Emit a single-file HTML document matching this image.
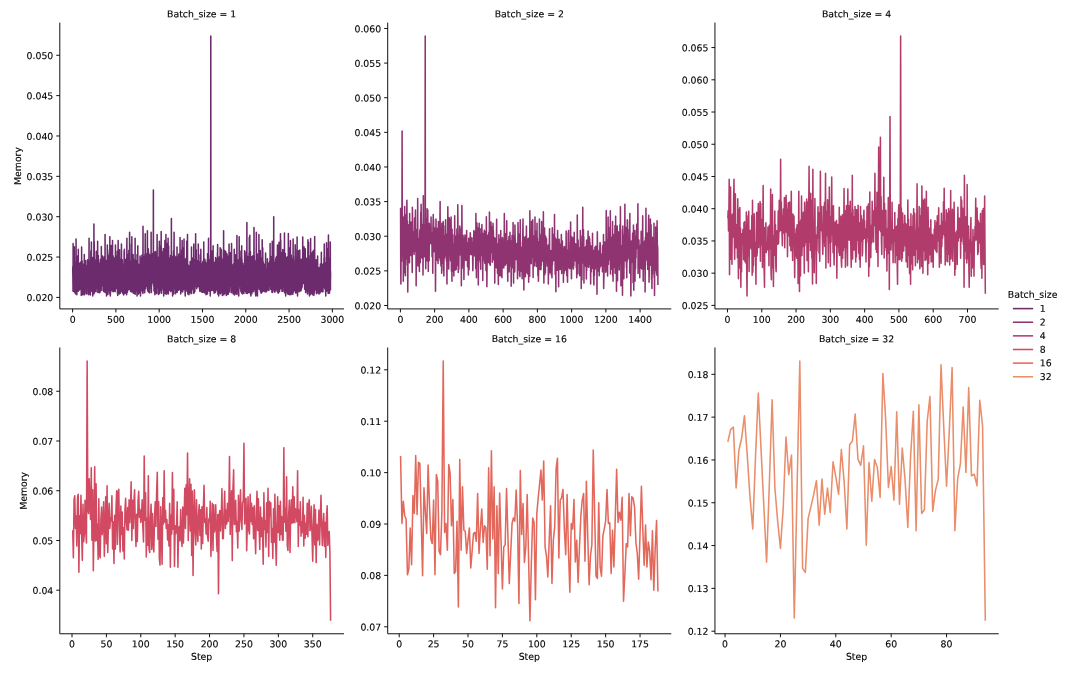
<!DOCTYPE html>
<html lang="en"><head><meta charset="utf-8"><title>Memory per step by batch size</title>
<style>html,body{margin:0;padding:0;background:#fff;}body{width:1066px;height:673px;overflow:hidden;}svg{display:block;}text{fill:#000;stroke:#000;stroke-width:0.13px;}</style>
</head><body>
<svg width="1066" height="673" viewBox="0 0 1066 673" font-family="'DejaVu Sans', 'Liberation Sans', sans-serif">
<rect width="1066" height="673" fill="#fff"/>
<path d="M72.70,273.20 L72.78,266.66 L72.87,276.20 L72.96,283.67 L73.04,291.22 L73.13,243.41 L73.21,279.71 L73.30,291.50 L73.39,291.39 L73.47,260.59 L73.56,290.23 L73.65,285.42 L73.73,278.96 L73.82,261.52 L73.91,264.03 L73.99,265.80 L74.08,280.50 L74.17,277.27 L74.25,271.34 L74.34,246.78 L74.43,275.35 L74.51,284.63 L74.60,264.88 L74.69,291.46 L74.77,271.47 L74.86,292.44 L74.95,286.27 L75.03,264.53 L75.12,265.33 L75.21,293.21 L75.29,262.71 L75.38,293.87 L75.47,277.52 L75.55,279.74 L75.64,287.40 L75.73,283.47 L75.81,267.78 L75.90,283.78 L75.99,289.26 L76.07,238.97 L76.16,279.54 L76.25,268.18 L76.33,286.51 L76.42,283.80 L76.50,268.25 L76.59,277.77 L76.68,277.82 L76.76,286.59 L76.85,294.66 L76.94,264.13 L77.02,291.49 L77.11,267.06 L77.20,282.45 L77.28,263.73 L77.37,281.48 L77.46,264.29 L77.54,255.96 L77.63,286.70 L77.72,270.97 L77.80,273.27 L77.89,273.15 L77.98,280.11 L78.06,287.62 L78.15,275.02 L78.24,291.20 L78.32,249.38 L78.41,265.40 L78.50,283.21 L78.58,270.61 L78.67,288.66 L78.76,282.78 L78.84,270.54 L78.93,283.06 L79.02,273.04 L79.10,276.05 L79.19,266.12 L79.28,264.56 L79.36,272.63 L79.45,270.03 L79.53,289.92 L79.62,263.35 L79.71,268.77 L79.79,282.36 L79.88,277.70 L79.97,279.95 L80.05,262.97 L80.14,284.90 L80.23,282.29 L80.31,262.96 L80.40,281.72 L80.49,275.19 L80.57,265.78 L80.66,266.10 L80.75,284.56 L80.83,264.01 L80.92,261.84 L81.01,269.10 L81.09,289.84 L81.18,282.10 L81.27,295.47 L81.35,267.89 L81.44,268.78 L81.53,290.40 L81.61,247.12 L81.70,286.72 L81.79,279.49 L81.87,277.67 L81.96,291.55 L82.05,268.30 L82.13,260.81 L82.22,281.26 L82.31,293.12 L82.39,294.77 L82.48,289.02 L82.57,284.70 L82.65,267.39 L82.74,268.67 L82.82,264.11 L82.91,281.63 L83.00,275.55 L83.08,270.13 L83.17,285.23 L83.26,272.26 L83.34,283.59 L83.43,278.16 L83.52,274.22 L83.60,280.91 L83.69,275.73 L83.78,275.64 L83.86,294.68 L83.95,293.75 L84.04,290.76 L84.12,289.03 L84.21,289.33 L84.30,254.55 L84.38,288.91 L84.47,278.53 L84.56,294.66 L84.64,285.14 L84.73,261.59 L84.82,283.14 L84.90,275.72 L84.99,272.65 L85.08,268.10 L85.16,266.58 L85.25,274.43 L85.34,284.82 L85.42,270.75 L85.51,287.93 L85.60,269.05 L85.68,260.50 L85.77,273.05 L85.85,278.62 L85.94,285.12 L86.03,279.64 L86.11,265.45 L86.20,293.34 L86.29,278.25 L86.37,279.79 L86.46,268.53 L86.55,294.03 L86.63,276.98 L86.72,278.99 L86.81,275.44 L86.89,271.07 L86.98,277.59 L87.07,276.23 L87.15,278.47 L87.24,274.28 L87.33,286.40 L87.41,276.14 L87.50,272.01 L87.59,259.80 L87.67,261.17 L87.76,269.37 L87.85,262.22 L87.93,284.66 L88.02,279.55 L88.11,285.74 L88.19,293.07 L88.28,294.09 L88.37,286.20 L88.45,265.06 L88.54,289.03 L88.63,270.89 L88.71,294.66 L88.80,292.43 L88.89,288.05 L88.97,260.51 L89.06,238.25 L89.14,275.67 L89.23,279.01 L89.32,285.28 L89.40,277.78 L89.49,262.50 L89.58,287.89 L89.66,269.12 L89.75,286.12 L89.84,288.14 L89.92,283.50 L90.01,291.68 L90.10,261.72 L90.18,281.96 L90.27,288.68 L90.36,294.93 L90.44,292.76 L90.53,287.24 L90.62,279.97 L90.70,273.44 L90.79,259.99 L90.88,250.67 L90.96,286.29 L91.05,273.28 L91.14,262.42 L91.22,291.26 L91.31,264.94 L91.40,241.96 L91.48,267.30 L91.57,283.34 L91.66,272.40 L91.74,276.48 L91.83,290.95 L91.92,267.09 L92.00,264.76 L92.09,277.11 L92.17,280.55 L92.26,260.11 L92.35,281.01 L92.43,262.53 L92.52,279.36 L92.61,280.99 L92.69,257.57 L92.78,295.92 L92.87,284.46 L92.95,286.20 L93.04,258.26 L93.13,274.74 L93.21,278.37 L93.30,293.65 L93.39,288.84 L93.47,260.85 L93.56,257.75 L93.65,280.84 L93.73,259.66 L93.82,290.35 L93.91,224.12 L93.99,265.12 L94.08,293.78 L94.17,291.98 L94.25,241.40 L94.34,259.66 L94.43,284.88 L94.51,276.86 L94.60,285.31 L94.69,261.80 L94.77,259.71 L94.86,291.79 L94.95,275.25 L95.03,287.65 L95.12,279.61 L95.21,267.34 L95.29,268.36 L95.38,287.41 L95.46,282.22 L95.55,259.92 L95.64,280.26 L95.72,269.51 L95.81,265.66 L95.90,282.07 L95.98,278.20 L96.07,291.69 L96.16,280.82 L96.24,259.85 L96.33,251.23 L96.42,273.85 L96.50,272.06 L96.59,273.42 L96.68,264.88 L96.76,284.38 L96.85,282.29 L96.94,261.85 L97.02,275.65 L97.11,259.28 L97.20,288.49 L97.28,265.81 L97.37,276.77 L97.46,260.33 L97.54,262.81 L97.63,241.23 L97.72,275.52 L97.80,284.53 L97.89,292.49 L97.98,265.32 L98.06,279.53 L98.15,266.56 L98.24,292.52 L98.32,255.54 L98.41,261.03 L98.50,270.34 L98.58,286.42 L98.67,271.17 L98.75,286.67 L98.84,280.63 L98.93,291.82 L99.01,290.66 L99.10,287.80 L99.19,287.02 L99.27,265.60 L99.36,285.02 L99.45,266.16 L99.53,292.77 L99.62,291.10 L99.71,291.01 L99.79,263.00 L99.88,266.75 L99.97,292.47 L100.05,263.23 L100.14,285.76 L100.23,284.57 L100.31,274.45 L100.40,259.54 L100.49,262.23 L100.57,281.45 L100.66,275.05 L100.75,275.06 L100.83,284.18 L100.92,270.10 L101.01,262.74 L101.09,274.52 L101.18,290.38 L101.27,268.07 L101.35,246.40 L101.44,277.83 L101.53,272.62 L101.61,284.79 L101.70,261.02 L101.78,259.06 L101.87,262.80 L101.96,259.85 L102.04,260.40 L102.13,285.79 L102.22,263.69 L102.30,273.79 L102.39,285.08 L102.48,269.95 L102.56,255.99 L102.65,263.07 L102.74,266.28 L102.82,282.07 L102.91,273.45 L103.00,273.31 L103.08,290.53 L103.17,269.61 L103.26,275.61 L103.34,275.61 L103.43,259.50 L103.52,291.18 L103.60,286.52 L103.69,259.49 L103.78,283.57 L103.86,285.17 L103.95,291.65 L104.04,283.26 L104.12,274.59 L104.21,256.95 L104.30,284.21 L104.38,285.41 L104.47,289.04 L104.56,266.53 L104.64,260.51 L104.73,262.16 L104.82,278.93 L104.90,292.18 L104.99,282.19 L105.07,234.53 L105.16,281.09 L105.25,268.66 L105.33,268.23 L105.42,262.79 L105.51,277.94 L105.59,286.12 L105.68,262.26 L105.77,263.20 L105.85,290.09 L105.94,287.09 L106.03,271.15 L106.11,265.43 L106.20,260.47 L106.29,293.85 L106.37,287.87 L106.46,279.62 L106.55,295.88 L106.63,267.44 L106.72,275.33 L106.81,276.78 L106.89,286.45 L106.98,272.61 L107.07,275.06 L107.15,263.11 L107.24,288.35 L107.33,244.95 L107.41,282.97 L107.50,254.42 L107.59,249.73 L107.67,288.88 L107.76,270.80 L107.85,266.74 L107.93,294.44 L108.02,263.43 L108.10,291.54 L108.19,284.05 L108.28,277.71 L108.36,279.81 L108.45,255.50 L108.54,268.84 L108.62,264.79 L108.71,286.56 L108.80,288.82 L108.88,276.13 L108.97,289.42 L109.06,261.06 L109.14,264.24 L109.23,264.83 L109.32,280.02 L109.40,266.56 L109.49,280.74 L109.58,252.59 L109.66,291.01 L109.75,293.49 L109.84,236.71 L109.92,287.91 L110.01,260.53 L110.10,274.59 L110.18,274.18 L110.27,295.92 L110.36,284.21 L110.44,294.51 L110.53,287.03 L110.62,278.49 L110.70,289.48 L110.79,284.87 L110.88,268.49 L110.96,281.43 L111.05,282.71 L111.14,286.59 L111.22,245.42 L111.31,250.21 L111.39,288.92 L111.48,264.75 L111.57,267.18 L111.65,273.33 L111.74,275.35 L111.83,276.12 L111.91,290.81 L112.00,274.30 L112.09,259.49 L112.17,268.60 L112.26,277.76 L112.35,278.53 L112.43,263.61 L112.52,240.43 L112.61,286.78 L112.69,260.52 L112.78,260.42 L112.87,264.95 L112.95,275.01 L113.04,291.83 L113.13,255.88 L113.21,271.62 L113.30,291.76 L113.39,276.76 L113.47,261.22 L113.56,291.02 L113.65,291.61 L113.73,289.75 L113.82,270.38 L113.91,263.40 L113.99,288.14 L114.08,265.20 L114.17,286.06 L114.25,275.60 L114.34,268.18 L114.42,289.70 L114.51,277.85 L114.60,265.06 L114.68,257.89 L114.77,267.53 L114.86,278.91 L114.94,262.93 L115.03,280.82 L115.12,267.08 L115.20,291.58 L115.29,283.04 L115.38,271.15 L115.46,244.95 L115.55,281.02 L115.64,286.41 L115.72,280.56 L115.81,262.11 L115.90,275.27 L115.98,260.30 L116.07,270.69 L116.16,270.70 L116.24,280.24 L116.33,278.93 L116.42,288.52 L116.50,266.16 L116.59,282.26 L116.68,255.90 L116.76,262.72 L116.85,283.89 L116.94,287.53 L117.02,281.24 L117.11,276.71 L117.20,273.38 L117.28,251.19 L117.37,271.05 L117.46,293.48 L117.54,261.05 L117.63,278.67 L117.71,295.47 L117.80,279.19 L117.89,284.95 L117.97,266.84 L118.06,279.02 L118.15,240.43 L118.23,282.49 L118.32,260.16 L118.41,282.19 L118.49,290.79 L118.58,264.53 L118.67,260.76 L118.75,269.89 L118.84,280.06 L118.93,259.61 L119.01,271.65 L119.10,293.66 L119.19,291.27 L119.27,278.88 L119.36,279.83 L119.45,293.96 L119.53,249.65 L119.62,277.66 L119.71,278.73 L119.79,282.67 L119.88,289.80 L119.97,281.58 L120.05,271.37 L120.14,266.50 L120.23,268.27 L120.31,293.21 L120.40,282.10 L120.49,277.12 L120.57,259.60 L120.66,286.51 L120.74,266.79 L120.83,270.51 L120.92,290.77 L121.00,261.12 L121.09,275.04 L121.18,273.61 L121.26,284.92 L121.35,263.99 L121.44,244.14 L121.52,282.40 L121.61,277.74 L121.70,291.61 L121.78,261.29 L121.87,273.03 L121.96,286.32 L122.04,267.23 L122.13,276.41 L122.22,264.28 L122.30,259.71 L122.39,290.92 L122.48,286.63 L122.56,267.31 L122.65,293.30 L122.74,290.19 L122.82,265.36 L122.91,268.86 L123.00,286.31 L123.08,283.72 L123.17,293.08 L123.26,290.33 L123.34,293.90 L123.43,276.20 L123.52,275.53 L123.60,289.82 L123.69,294.99 L123.78,279.43 L123.86,276.09 L123.95,262.87 L124.03,288.00 L124.12,251.15 L124.21,262.46 L124.29,279.36 L124.38,249.38 L124.47,286.50 L124.55,280.41 L124.64,272.15 L124.73,280.09 L124.81,276.81 L124.90,270.57 L124.99,281.43 L125.07,293.49 L125.16,276.17 L125.25,259.53 L125.33,292.73 L125.42,278.92 L125.51,272.53 L125.59,277.81 L125.68,290.48 L125.77,276.72 L125.85,291.21 L125.94,291.50 L126.03,282.32 L126.11,287.77 L126.20,276.37 L126.29,260.87 L126.37,286.29 L126.46,258.97 L126.55,281.52 L126.63,294.66 L126.72,275.38 L126.81,266.25 L126.89,238.25 L126.98,264.05 L127.07,288.62 L127.15,262.27 L127.24,289.60 L127.32,267.80 L127.41,292.24 L127.50,283.20 L127.58,289.18 L127.67,271.77 L127.76,282.68 L127.84,273.72 L127.93,286.12 L128.02,254.47 L128.10,255.49 L128.19,272.52 L128.28,276.43 L128.36,267.86 L128.45,258.31 L128.54,281.75 L128.62,289.70 L128.71,284.98 L128.80,287.95 L128.88,250.20 L128.97,267.01 L129.06,266.11 L129.14,289.50 L129.23,287.53 L129.32,280.44 L129.40,263.19 L129.49,275.97 L129.58,232.27 L129.66,251.22 L129.75,273.50 L129.84,287.24 L129.92,281.04 L130.01,271.63 L130.10,266.20 L130.18,280.41 L130.27,276.79 L130.35,288.37 L130.44,283.78 L130.53,291.57 L130.61,291.02 L130.70,290.03 L130.79,261.03 L130.87,266.92 L130.96,272.15 L131.05,264.55 L131.13,286.78 L131.22,280.50 L131.31,272.28 L131.39,262.51 L131.48,243.97 L131.57,288.60 L131.65,291.51 L131.74,291.85 L131.83,236.71 L131.91,261.16 L132.00,287.93 L132.09,255.42 L132.17,291.64 L132.26,263.36 L132.35,268.12 L132.43,276.30 L132.52,276.18 L132.61,285.36 L132.69,260.13 L132.78,283.53 L132.87,283.81 L132.95,265.91 L133.04,272.82 L133.13,254.52 L133.21,273.11 L133.30,293.21 L133.39,289.45 L133.47,258.96 L133.56,268.73 L133.64,271.90 L133.73,273.86 L133.82,285.38 L133.90,288.19 L133.99,273.24 L134.08,293.48 L134.16,292.93 L134.25,281.91 L134.34,273.44 L134.42,261.39 L134.51,278.25 L134.60,283.48 L134.68,260.66 L134.77,283.90 L134.86,277.46 L134.94,277.64 L135.03,292.97 L135.12,238.25 L135.20,294.24 L135.29,266.48 L135.38,281.12 L135.46,270.49 L135.55,278.78 L135.64,277.03 L135.72,264.00 L135.81,280.60 L135.90,290.95 L135.98,270.88 L136.07,260.80 L136.16,276.38 L136.24,281.61 L136.33,279.65 L136.42,269.23 L136.50,265.50 L136.59,261.37 L136.67,261.18 L136.76,266.55 L136.85,262.70 L136.93,281.54 L137.02,295.92 L137.11,254.55 L137.19,279.42 L137.28,292.68 L137.37,287.48 L137.45,280.98 L137.54,281.08 L137.63,269.64 L137.71,262.04 L137.80,245.67 L137.89,293.83 L137.97,271.67 L138.06,270.59 L138.15,294.16 L138.23,283.70 L138.32,275.03 L138.41,290.37 L138.49,270.25 L138.58,265.49 L138.67,264.48 L138.75,276.36 L138.84,271.76 L138.93,267.50 L139.01,267.26 L139.10,285.14 L139.19,276.40 L139.27,291.93 L139.36,269.37 L139.45,292.96 L139.53,286.79 L139.62,279.23 L139.71,288.64 L139.79,283.52 L139.88,285.45 L139.96,277.44 L140.05,256.08 L140.14,273.04 L140.22,278.11 L140.31,275.09 L140.40,267.22 L140.48,295.88 L140.57,268.54 L140.66,290.57 L140.74,271.33 L140.83,270.87 L140.92,291.95 L141.00,275.33 L141.09,284.62 L141.18,282.57 L141.26,261.92 L141.35,258.09 L141.44,259.67 L141.52,267.09 L141.61,280.82 L141.70,257.51 L141.78,259.24 L141.87,288.55 L141.96,255.14 L142.04,258.70 L142.13,277.24 L142.22,289.91 L142.30,258.70 L142.39,274.32 L142.48,265.37 L142.56,257.56 L142.65,284.99 L142.74,292.59 L142.82,258.01 L142.91,293.59 L142.99,226.30 L143.08,261.05 L143.17,260.74 L143.25,278.74 L143.34,286.00 L143.43,271.49 L143.51,277.43 L143.60,267.29 L143.69,290.23 L143.77,275.88 L143.86,259.76 L143.95,271.52 L144.03,259.13 L144.12,265.57 L144.21,288.06 L144.29,256.18 L144.38,286.20 L144.47,290.35 L144.55,270.78 L144.64,292.65 L144.73,291.03 L144.81,278.54 L144.90,254.37 L144.99,268.33 L145.07,282.65 L145.16,254.15 L145.25,233.73 L145.33,273.38 L145.42,261.33 L145.51,262.20 L145.59,257.89 L145.68,288.78 L145.77,253.61 L145.85,264.55 L145.94,277.79 L146.03,255.60 L146.11,272.78 L146.20,280.73 L146.28,284.78 L146.37,267.46 L146.46,264.73 L146.54,282.93 L146.63,267.22 L146.72,284.21 L146.80,258.54 L146.89,277.44 L146.98,274.47 L147.06,286.39 L147.15,274.71 L147.24,282.05 L147.32,262.01 L147.41,230.82 L147.50,271.78 L147.58,276.89 L147.67,290.95 L147.76,266.83 L147.84,270.46 L147.93,287.10 L148.02,288.80 L148.10,268.64 L148.19,255.91 L148.28,248.72 L148.36,275.94 L148.45,251.36 L148.54,292.07 L148.62,267.69 L148.71,274.20 L148.80,273.41 L148.88,259.29 L148.97,267.67 L149.06,283.23 L149.14,253.99 L149.23,255.49 L149.31,264.90 L149.40,288.01 L149.49,267.34 L149.57,292.91 L149.66,281.39 L149.75,275.38 L149.83,274.34 L149.92,261.14 L150.01,270.42 L150.09,266.85 L150.18,274.84 L150.27,263.51 L150.35,285.43 L150.44,256.84 L150.53,259.20 L150.61,256.29 L150.70,254.75 L150.79,261.53 L150.87,281.31 L150.96,256.29 L151.05,260.46 L151.13,232.27 L151.22,289.03 L151.31,253.76 L151.39,292.49 L151.48,286.05 L151.57,270.77 L151.65,258.52 L151.74,282.28 L151.83,255.14 L151.91,261.67 L152.00,270.49 L152.09,270.47 L152.17,269.41 L152.26,260.86 L152.35,262.05 L152.43,282.83 L152.52,278.93 L152.60,253.42 L152.69,254.98 L152.78,271.91 L152.86,280.82 L152.95,257.52 L153.04,282.35 L153.12,275.13 L153.21,269.90 L153.30,262.93 L153.38,190.06 L153.47,266.19 L153.56,285.43 L153.64,280.18 L153.73,263.69 L153.82,270.61 L153.90,252.06 L153.99,290.94 L154.08,254.34 L154.16,274.00 L154.25,281.92 L154.34,289.76 L154.42,291.03 L154.51,254.06 L154.60,262.26 L154.68,254.57 L154.77,259.85 L154.86,294.66 L154.94,286.09 L155.03,272.29 L155.12,284.22 L155.20,287.42 L155.29,271.57 L155.38,270.97 L155.46,251.51 L155.55,261.64 L155.64,293.11 L155.72,286.98 L155.81,271.49 L155.89,265.54 L155.98,254.27 L156.07,271.88 L156.15,275.12 L156.24,293.51 L156.33,276.54 L156.41,259.52 L156.50,291.65 L156.59,273.11 L156.67,256.27 L156.76,255.89 L156.85,293.40 L156.93,281.95 L157.02,286.42 L157.11,234.53 L157.19,262.86 L157.28,283.67 L157.37,279.15 L157.45,268.06 L157.54,257.65 L157.63,287.80 L157.71,264.07 L157.80,282.61 L157.89,285.27 L157.97,259.92 L158.06,267.21 L158.15,262.22 L158.23,265.15 L158.32,257.62 L158.41,287.51 L158.49,268.80 L158.58,294.42 L158.67,267.80 L158.75,269.90 L158.84,265.85 L158.92,292.29 L159.01,288.37 L159.10,262.89 L159.18,247.85 L159.27,250.90 L159.36,241.23 L159.44,275.72 L159.53,293.59 L159.62,288.36 L159.70,292.26 L159.79,287.04 L159.88,284.49 L159.96,291.18 L160.05,269.70 L160.14,253.54 L160.22,246.52 L160.31,256.59 L160.40,282.89 L160.48,284.26 L160.57,281.77 L160.66,261.74 L160.74,268.00 L160.83,264.25 L160.92,284.28 L161.00,288.22 L161.09,275.05 L161.18,231.55 L161.26,283.28 L161.35,263.82 L161.44,266.14 L161.52,293.21 L161.61,266.32 L161.70,257.86 L161.78,285.36 L161.87,283.55 L161.96,278.63 L162.04,286.17 L162.13,278.38 L162.21,265.56 L162.30,260.78 L162.39,268.33 L162.47,273.19 L162.56,258.41 L162.65,287.15 L162.73,267.20 L162.82,251.47 L162.91,257.83 L162.99,286.85 L163.08,284.50 L163.17,289.99 L163.25,276.67 L163.34,248.57 L163.43,283.06 L163.51,259.35 L163.60,263.12 L163.69,295.88 L163.77,270.82 L163.86,268.75 L163.95,289.14 L164.03,269.03 L164.12,269.92 L164.21,260.26 L164.29,282.81 L164.38,289.10 L164.47,273.10 L164.55,260.70 L164.64,289.79 L164.73,286.37 L164.81,290.40 L164.90,240.62 L164.99,264.45 L165.07,290.90 L165.16,260.93 L165.24,277.24 L165.33,293.63 L165.42,292.16 L165.50,284.72 L165.59,293.08 L165.68,287.92 L165.76,292.12 L165.85,289.04 L165.94,234.53 L166.02,277.84 L166.11,262.05 L166.20,263.80 L166.28,248.10 L166.37,292.26 L166.46,244.71 L166.54,292.11 L166.63,294.17 L166.72,265.59 L166.80,270.40 L166.89,265.35 L166.98,283.96 L167.06,243.60 L167.15,261.17 L167.24,292.73 L167.32,258.09 L167.41,265.26 L167.50,262.13 L167.58,276.27 L167.67,264.46 L167.76,260.18 L167.84,260.79 L167.93,283.85 L168.02,287.76 L168.10,238.25 L168.19,277.57 L168.28,262.10 L168.36,293.94 L168.45,288.03 L168.53,279.91 L168.62,246.10 L168.71,267.56 L168.79,287.72 L168.88,286.96 L168.97,279.30 L169.05,257.79 L169.14,274.17 L169.23,283.77 L169.31,286.06 L169.40,284.63 L169.49,273.17 L169.57,286.03 L169.66,290.32 L169.75,261.92 L169.83,268.62 L169.92,271.05 L170.01,284.57 L170.09,278.11 L170.18,260.00 L170.27,284.43 L170.35,277.71 L170.44,290.89 L170.53,279.42 L170.61,255.39 L170.70,264.50 L170.79,255.63 L170.87,291.71 L170.96,280.58 L171.05,257.54 L171.13,289.91 L171.22,263.11 L171.31,290.29 L171.39,218.63 L171.48,264.24 L171.56,264.03 L171.65,263.49 L171.74,282.02 L171.82,273.71 L171.91,289.52 L172.00,256.27 L172.08,266.28 L172.17,279.36 L172.26,275.49 L172.34,272.08 L172.43,280.69 L172.52,281.76 L172.60,295.88 L172.69,288.31 L172.78,256.77 L172.86,273.42 L172.95,276.79 L173.04,276.42 L173.12,293.79 L173.21,281.95 L173.30,276.80 L173.38,292.55 L173.47,293.86 L173.56,250.68 L173.64,270.79 L173.73,294.04 L173.82,258.09 L173.90,270.53 L173.99,258.21 L174.08,232.27 L174.16,275.00 L174.25,286.44 L174.34,259.35 L174.42,280.80 L174.51,286.74 L174.60,255.41 L174.68,282.04 L174.77,288.82 L174.85,264.70 L174.94,286.05 L175.03,259.99 L175.11,266.70 L175.20,262.24 L175.29,267.36 L175.37,261.84 L175.46,259.47 L175.55,293.66 L175.63,284.81 L175.72,256.97 L175.81,274.85 L175.89,261.97 L175.98,277.95 L176.07,282.13 L176.15,265.69 L176.24,284.86 L176.33,280.14 L176.41,266.54 L176.50,280.84 L176.59,272.43 L176.67,261.22 L176.76,286.72 L176.85,262.84 L176.93,287.25 L177.02,247.12 L177.11,292.58 L177.19,290.67 L177.28,290.95 L177.37,273.90 L177.45,265.51 L177.54,262.04 L177.63,281.85 L177.71,277.31 L177.80,256.25 L177.88,278.24 L177.97,265.49 L178.06,259.69 L178.14,268.85 L178.23,265.00 L178.32,279.71 L178.40,281.92 L178.49,290.26 L178.58,257.61 L178.66,266.22 L178.75,271.73 L178.84,253.91 L178.92,269.13 L179.01,285.68 L179.10,265.37 L179.18,260.41 L179.27,282.02 L179.36,272.09 L179.44,277.33 L179.53,281.65 L179.62,261.42 L179.70,282.19 L179.79,264.88 L179.88,254.22 L179.96,289.67 L180.05,237.52 L180.14,280.14 L180.22,258.99 L180.31,277.65 L180.40,279.31 L180.48,278.56 L180.57,257.93 L180.66,256.95 L180.74,293.94 L180.83,266.49 L180.92,278.40 L181.00,274.48 L181.09,287.80 L181.17,269.57 L181.26,271.83 L181.35,271.05 L181.43,260.33 L181.52,291.55 L181.61,275.37 L181.69,249.90 L181.78,280.99 L181.87,255.23 L181.95,264.76 L182.04,284.34 L182.13,240.40 L182.21,260.86 L182.30,260.87 L182.39,278.50 L182.47,271.66 L182.56,277.11 L182.65,291.98 L182.73,284.48 L182.82,256.01 L182.91,287.86 L182.99,248.00 L183.08,269.89 L183.17,279.45 L183.25,273.21 L183.34,273.88 L183.43,289.80 L183.51,259.19 L183.60,275.41 L183.69,271.37 L183.77,274.18 L183.86,258.93 L183.95,288.95 L184.03,238.97 L184.12,264.03 L184.20,261.96 L184.29,259.13 L184.38,261.93 L184.46,280.03 L184.55,273.83 L184.64,271.28 L184.72,273.73 L184.81,279.23 L184.90,264.38 L184.98,266.43 L185.07,293.44 L185.16,261.21 L185.24,295.88 L185.33,260.33 L185.42,259.23 L185.50,270.89 L185.59,284.98 L185.68,272.51 L185.76,278.92 L185.85,287.97 L185.94,289.04 L186.02,266.73 L186.11,278.98 L186.20,257.99 L186.28,281.63 L186.37,272.46 L186.46,271.88 L186.54,265.85 L186.63,259.29 L186.72,272.80 L186.80,241.04 L186.89,291.14 L186.98,263.50 L187.06,258.18 L187.15,277.14 L187.24,275.90 L187.32,275.71 L187.41,279.79 L187.49,234.53 L187.58,264.89 L187.67,280.99 L187.75,267.27 L187.84,294.09 L187.93,283.09 L188.01,267.80 L188.10,271.00 L188.19,291.06 L188.27,281.64 L188.36,278.62 L188.45,265.22 L188.53,290.55 L188.62,288.98 L188.71,283.60 L188.79,279.86 L188.88,269.03 L188.97,294.66 L189.05,268.56 L189.14,286.18 L189.23,281.41 L189.31,266.77 L189.40,278.98 L189.49,276.40 L189.57,279.45 L189.66,291.07 L189.75,276.70 L189.83,292.76 L189.92,288.89 L190.01,269.19 L190.09,269.00 L190.18,261.45 L190.27,269.05 L190.35,280.90 L190.44,287.36 L190.53,287.27 L190.61,285.77 L190.70,264.30 L190.78,280.15 L190.87,277.08 L190.96,277.47 L191.04,290.29 L191.13,274.82 L191.22,293.77 L191.30,273.99 L191.39,286.69 L191.48,247.12 L191.56,274.35 L191.65,278.43 L191.74,290.10 L191.82,285.22 L191.91,285.00 L192.00,264.65 L192.08,277.53 L192.17,277.63 L192.26,278.77 L192.34,282.46 L192.43,272.52 L192.52,278.79 L192.60,275.76 L192.69,270.94 L192.78,257.94 L192.86,287.78 L192.95,264.48 L193.04,287.89 L193.12,275.32 L193.21,263.99 L193.30,261.79 L193.38,293.21 L193.47,275.41 L193.56,272.34 L193.64,285.65 L193.73,279.81 L193.81,244.14 L193.90,286.38 L193.99,268.19 L194.07,259.94 L194.16,293.04 L194.25,259.66 L194.33,276.71 L194.42,266.63 L194.51,276.58 L194.59,277.56 L194.68,290.53 L194.77,284.15 L194.85,291.85 L194.94,275.18 L195.03,271.26 L195.11,279.81 L195.20,263.42 L195.29,261.61 L195.37,285.09 L195.46,282.28 L195.55,286.55 L195.63,233.73 L195.72,270.80 L195.81,267.98 L195.89,261.29 L195.98,276.08 L196.07,279.82 L196.15,262.06 L196.24,249.76 L196.33,275.94 L196.41,283.33 L196.50,269.15 L196.59,282.41 L196.67,288.85 L196.76,261.95 L196.85,261.68 L196.93,262.67 L197.02,287.78 L197.10,282.54 L197.19,280.67 L197.28,275.12 L197.36,275.87 L197.45,266.21 L197.54,260.40 L197.62,268.32 L197.71,267.99 L197.80,277.65 L197.88,283.27 L197.97,261.16 L198.06,280.09 L198.14,261.47 L198.23,268.83 L198.32,244.14 L198.40,286.40 L198.49,269.98 L198.58,271.68 L198.66,274.68 L198.75,275.85 L198.84,284.30 L198.92,261.76 L199.01,277.05 L199.10,264.43 L199.18,267.98 L199.27,269.88 L199.36,287.24 L199.44,288.65 L199.53,281.75 L199.62,263.99 L199.70,289.02 L199.79,291.17 L199.88,286.96 L199.96,285.38 L200.05,275.32 L200.13,289.32 L200.22,254.85 L200.31,275.79 L200.39,275.38 L200.48,268.85 L200.57,283.09 L200.65,265.48 L200.74,279.67 L200.83,249.38 L200.91,270.17 L201.00,282.10 L201.09,268.94 L201.17,291.72 L201.26,277.23 L201.35,277.44 L201.43,290.32 L201.52,275.92 L201.61,263.45 L201.69,272.08 L201.78,283.26 L201.87,274.52 L201.95,269.09 L202.04,269.80 L202.13,269.84 L202.21,267.98 L202.30,292.49 L202.39,269.54 L202.47,277.62 L202.56,281.95 L202.65,278.99 L202.73,261.93 L202.82,269.66 L202.91,277.24 L202.99,261.21 L203.08,272.05 L203.17,274.70 L203.25,271.85 L203.34,279.13 L203.42,292.07 L203.51,278.95 L203.60,285.17 L203.68,261.63 L203.77,241.96 L203.86,289.63 L203.94,287.55 L204.03,292.38 L204.12,266.58 L204.20,268.33 L204.29,282.43 L204.38,288.02 L204.46,284.91 L204.55,273.39 L204.64,289.36 L204.72,292.86 L204.81,284.06 L204.90,259.15 L204.98,289.33 L205.07,270.64 L205.16,261.32 L205.24,262.94 L205.33,271.44 L205.42,277.74 L205.50,268.22 L205.59,267.85 L205.68,280.69 L205.76,274.55 L205.85,275.38 L205.94,293.87 L206.02,294.66 L206.11,264.38 L206.20,263.33 L206.28,288.30 L206.37,285.91 L206.45,276.72 L206.54,283.72 L206.63,288.69 L206.71,294.07 L206.80,288.24 L206.89,288.32 L206.97,276.47 L207.06,262.62 L207.15,292.35 L207.23,292.76 L207.32,259.71 L207.41,293.99 L207.49,287.37 L207.58,253.87 L207.67,273.17 L207.75,279.52 L207.84,260.30 L207.93,290.44 L208.01,273.52 L208.10,264.36 L208.19,262.39 L208.27,290.97 L208.36,256.77 L208.45,253.84 L208.53,238.25 L208.62,290.24 L208.71,255.39 L208.79,257.78 L208.88,281.88 L208.97,277.62 L209.05,269.94 L209.14,262.04 L209.23,264.56 L209.31,272.25 L209.40,260.34 L209.49,284.91 L209.57,265.01 L209.66,291.55 L209.74,268.18 L209.83,267.37 L209.92,269.26 L210.00,271.05 L210.09,259.52 L210.18,287.80 L210.26,295.88 L210.35,283.67 L210.44,277.66 L210.52,259.65 L210.61,265.95 L210.70,278.37 L210.78,36.10 L210.87,287.92 L210.96,271.96 L211.04,271.04 L211.13,266.32 L211.22,281.01 L211.30,273.32 L211.39,284.32 L211.48,267.92 L211.56,290.40 L211.65,251.11 L211.74,262.99 L211.82,270.37 L211.91,276.41 L212.00,255.40 L212.08,290.58 L212.17,270.34 L212.26,263.16 L212.34,286.54 L212.43,273.43 L212.52,286.80 L212.60,261.37 L212.69,275.07 L212.77,284.93 L212.86,289.72 L212.95,282.71 L213.03,287.48 L213.12,245.67 L213.21,283.74 L213.29,262.66 L213.38,278.77 L213.47,280.49 L213.55,279.44 L213.64,291.07 L213.73,265.76 L213.81,273.20 L213.90,281.89 L213.99,280.32 L214.07,266.01 L214.16,293.21 L214.25,282.90 L214.33,288.79 L214.42,262.17 L214.51,275.75 L214.59,271.63 L214.68,280.39 L214.77,281.92 L214.85,286.32 L214.94,277.74 L215.03,266.93 L215.11,292.53 L215.20,276.17 L215.29,275.83 L215.37,288.84 L215.46,292.54 L215.55,257.57 L215.63,280.22 L215.72,269.96 L215.81,275.39 L215.89,281.79 L215.98,274.27 L216.06,258.71 L216.15,284.98 L216.24,286.68 L216.32,265.69 L216.41,276.94 L216.50,285.41 L216.58,265.68 L216.67,282.46 L216.76,289.39 L216.84,287.84 L216.93,285.62 L217.02,270.50 L217.10,285.95 L217.19,264.28 L217.28,290.99 L217.36,281.16 L217.45,252.96 L217.54,262.47 L217.62,244.46 L217.71,283.05 L217.80,284.45 L217.88,294.26 L217.97,289.22 L218.06,291.37 L218.14,273.25 L218.23,293.35 L218.32,259.74 L218.40,270.04 L218.49,293.52 L218.58,275.91 L218.66,295.92 L218.75,280.92 L218.84,262.92 L218.92,285.31 L219.01,258.59 L219.10,275.91 L219.18,269.99 L219.27,256.90 L219.35,277.27 L219.44,283.86 L219.53,290.06 L219.61,266.40 L219.70,263.72 L219.79,283.17 L219.87,286.29 L219.96,273.00 L220.05,293.01 L220.13,247.85 L220.22,293.81 L220.31,275.36 L220.39,265.13 L220.48,277.74 L220.57,293.82 L220.65,277.85 L220.74,268.38 L220.83,290.08 L220.91,282.84 L221.00,280.30 L221.09,282.26 L221.17,249.36 L221.26,271.24 L221.35,274.90 L221.43,292.25 L221.52,258.35 L221.61,282.53 L221.69,278.12 L221.78,277.96 L221.87,279.56 L221.95,271.69 L222.04,279.86 L222.13,281.15 L222.21,291.62 L222.30,264.15 L222.38,295.47 L222.47,292.08 L222.56,286.25 L222.64,274.68 L222.73,274.69 L222.82,294.80 L222.90,259.66 L222.99,285.22 L223.08,265.04 L223.16,266.58 L223.25,264.00 L223.34,250.54 L223.42,274.75 L223.51,288.05 L223.60,230.82 L223.68,267.45 L223.77,280.88 L223.86,286.13 L223.94,294.73 L224.03,263.00 L224.12,263.29 L224.20,254.25 L224.29,266.27 L224.38,250.27 L224.46,288.93 L224.55,260.90 L224.64,272.09 L224.72,264.46 L224.81,284.70 L224.90,279.11 L224.98,278.74 L225.07,289.01 L225.16,291.92 L225.24,272.07 L225.33,284.83 L225.42,293.47 L225.50,284.20 L225.59,251.20 L225.67,287.39 L225.76,288.97 L225.85,276.43 L225.93,285.14 L226.02,285.65 L226.11,253.10 L226.19,282.88 L226.28,277.03 L226.37,295.47 L226.45,293.55 L226.54,272.21 L226.63,273.85 L226.71,269.28 L226.80,280.38 L226.89,275.81 L226.97,254.29 L227.06,254.15 L227.15,292.52 L227.23,294.18 L227.32,288.11 L227.41,287.13 L227.49,287.42 L227.58,264.92 L227.67,294.37 L227.75,264.71 L227.84,272.00 L227.93,285.22 L228.01,289.28 L228.10,287.22 L228.19,256.54 L228.27,294.23 L228.36,274.85 L228.45,283.69 L228.53,290.24 L228.62,266.38 L228.70,268.35 L228.79,276.19 L228.88,268.87 L228.96,276.81 L229.05,244.14 L229.14,261.81 L229.22,276.15 L229.31,291.99 L229.40,289.66 L229.48,281.63 L229.57,268.62 L229.66,259.97 L229.74,261.22 L229.83,272.03 L229.92,264.96 L230.00,272.14 L230.09,263.41 L230.18,261.83 L230.26,278.09 L230.35,252.82 L230.44,278.31 L230.52,278.45 L230.61,286.19 L230.70,265.42 L230.78,264.66 L230.87,254.72 L230.96,281.18 L231.04,277.22 L231.13,290.91 L231.22,292.72 L231.30,292.49 L231.39,283.83 L231.48,268.39 L231.56,243.41 L231.65,282.29 L231.74,276.06 L231.82,278.45 L231.91,268.58 L231.99,282.91 L232.08,266.72 L232.17,271.38 L232.25,278.39 L232.34,283.39 L232.43,275.04 L232.51,266.45 L232.60,290.50 L232.69,264.94 L232.77,269.86 L232.86,286.79 L232.95,293.55 L233.03,277.24 L233.12,278.35 L233.21,265.00 L233.29,280.18 L233.38,282.44 L233.47,294.06 L233.55,278.74 L233.64,263.86 L233.73,277.25 L233.81,265.52 L233.90,271.95 L233.99,273.67 L234.07,281.17 L234.16,279.88 L234.25,249.38 L234.33,273.32 L234.42,268.60 L234.51,294.99 L234.59,290.58 L234.68,271.60 L234.77,285.31 L234.85,283.02 L234.94,289.05 L235.02,293.07 L235.11,287.83 L235.20,269.83 L235.28,274.35 L235.37,279.20 L235.46,254.79 L235.54,271.66 L235.63,276.36 L235.72,293.12 L235.80,293.72 L235.89,293.70 L235.98,275.16 L236.06,288.39 L236.15,271.25 L236.24,292.96 L236.32,261.89 L236.41,281.70 L236.50,283.63 L236.58,265.81 L236.67,268.54 L236.76,274.25 L236.84,261.02 L236.93,235.58 L237.02,294.58 L237.10,277.08 L237.19,276.65 L237.28,276.95 L237.36,267.62 L237.45,259.60 L237.54,272.16 L237.62,261.61 L237.71,290.41 L237.80,270.43 L237.88,272.17 L237.97,280.60 L238.06,263.63 L238.14,291.72 L238.23,284.94 L238.31,268.15 L238.40,264.83 L238.49,267.20 L238.57,283.37 L238.66,260.07 L238.75,295.88 L238.83,266.89 L238.92,263.45 L239.01,272.67 L239.09,289.20 L239.18,236.71 L239.27,265.78 L239.35,264.72 L239.44,277.99 L239.53,270.44 L239.61,269.63 L239.70,284.01 L239.79,270.82 L239.87,275.74 L239.96,250.97 L240.05,281.37 L240.13,279.55 L240.22,280.73 L240.31,271.64 L240.39,275.93 L240.48,274.75 L240.57,286.91 L240.65,270.44 L240.74,279.16 L240.83,291.33 L240.91,281.48 L241.00,287.35 L241.09,257.71 L241.17,290.41 L241.26,292.32 L241.34,260.60 L241.43,291.49 L241.52,274.55 L241.60,293.07 L241.69,245.67 L241.78,284.04 L241.86,283.86 L241.95,259.21 L242.04,270.98 L242.12,268.15 L242.21,280.20 L242.30,263.41 L242.38,287.84 L242.47,293.94 L242.56,292.08 L242.64,285.57 L242.73,275.89 L242.82,263.21 L242.90,277.16 L242.99,274.59 L243.08,281.63 L243.16,265.36 L243.25,282.72 L243.34,282.45 L243.42,269.58 L243.51,269.61 L243.60,265.61 L243.68,291.46 L243.77,277.02 L243.86,293.57 L243.94,280.85 L244.03,273.17 L244.12,270.89 L244.20,287.76 L244.29,279.90 L244.38,289.63 L244.46,278.06 L244.55,279.46 L244.63,250.84 L244.72,275.68 L244.81,272.34 L244.89,291.04 L244.98,275.64 L245.07,260.39 L245.15,275.31 L245.24,284.28 L245.33,284.00 L245.41,271.53 L245.50,279.00 L245.59,273.69 L245.67,266.48 L245.76,291.66 L245.85,258.27 L245.93,281.90 L246.02,291.58 L246.11,293.21 L246.19,263.13 L246.28,252.14 L246.37,275.35 L246.45,277.06 L246.54,274.32 L246.63,288.61 L246.71,282.46 L246.80,267.67 L246.89,222.59 L246.97,278.45 L247.06,267.32 L247.15,284.22 L247.23,289.95 L247.32,293.52 L247.41,256.35 L247.49,293.14 L247.58,286.07 L247.66,256.72 L247.75,289.37 L247.84,291.16 L247.92,265.46 L248.01,258.06 L248.10,257.05 L248.18,268.70 L248.27,273.35 L248.36,271.54 L248.44,265.83 L248.53,283.69 L248.62,267.94 L248.70,270.22 L248.79,292.45 L248.88,263.50 L248.96,272.18 L249.05,253.01 L249.14,265.35 L249.22,284.35 L249.31,237.21 L249.40,267.62 L249.48,279.00 L249.57,273.66 L249.66,259.90 L249.74,265.00 L249.83,235.26 L249.92,269.72 L250.00,273.26 L250.09,261.68 L250.18,292.98 L250.26,272.06 L250.35,261.05 L250.44,251.42 L250.52,287.59 L250.61,294.70 L250.70,260.73 L250.78,285.17 L250.87,295.92 L250.95,273.32 L251.04,268.86 L251.13,264.15 L251.21,279.72 L251.30,280.71 L251.39,257.57 L251.47,277.12 L251.56,256.77 L251.65,272.25 L251.73,275.57 L251.82,293.75 L251.91,282.50 L251.99,282.89 L252.08,261.96 L252.17,266.58 L252.25,256.59 L252.34,258.84 L252.43,257.26 L252.51,269.00 L252.60,287.22 L252.69,277.13 L252.77,274.19 L252.86,255.81 L252.95,259.79 L253.03,266.19 L253.12,260.29 L253.21,291.81 L253.29,278.12 L253.38,274.87 L253.47,274.06 L253.55,289.92 L253.64,280.63 L253.73,262.74 L253.81,265.12 L253.90,263.04 L253.99,227.51 L254.07,245.76 L254.16,276.32 L254.24,256.20 L254.33,282.22 L254.42,283.45 L254.50,265.47 L254.59,275.33 L254.68,287.46 L254.76,276.20 L254.85,260.80 L254.94,264.76 L255.02,276.09 L255.11,291.77 L255.20,262.50 L255.28,272.51 L255.37,285.76 L255.46,294.14 L255.54,289.83 L255.63,291.53 L255.72,275.38 L255.80,295.88 L255.89,263.51 L255.98,272.01 L256.06,265.81 L256.15,276.27 L256.24,273.59 L256.32,232.27 L256.41,257.98 L256.50,293.90 L256.58,255.04 L256.67,288.60 L256.76,268.96 L256.84,271.73 L256.93,255.15 L257.02,268.29 L257.10,282.92 L257.19,264.66 L257.27,254.04 L257.36,276.58 L257.45,295.88 L257.53,266.12 L257.62,260.90 L257.71,282.84 L257.79,265.41 L257.88,267.72 L257.97,280.23 L258.05,287.53 L258.14,281.35 L258.23,283.91 L258.31,267.22 L258.40,272.75 L258.49,266.03 L258.57,258.29 L258.66,262.63 L258.75,265.64 L258.83,274.71 L258.92,234.53 L259.01,281.26 L259.09,276.96 L259.18,289.58 L259.27,284.68 L259.35,273.90 L259.44,287.51 L259.53,260.30 L259.61,278.20 L259.70,271.40 L259.79,281.26 L259.87,270.77 L259.96,258.75 L260.05,274.00 L260.13,257.03 L260.22,250.56 L260.31,258.22 L260.39,258.90 L260.48,288.87 L260.56,292.01 L260.65,286.91 L260.74,257.69 L260.82,276.98 L260.91,271.06 L261.00,273.09 L261.08,271.80 L261.17,277.39 L261.26,293.33 L261.34,277.29 L261.43,262.83 L261.52,271.40 L261.60,284.79 L261.69,281.96 L261.78,280.07 L261.86,292.49 L261.95,290.61 L262.04,261.63 L262.12,264.50 L262.21,239.70 L262.30,252.24 L262.38,289.10 L262.47,287.19 L262.56,276.05 L262.64,266.97 L262.73,247.72 L262.82,262.59 L262.90,285.65 L262.99,286.36 L263.08,263.40 L263.16,286.01 L263.25,291.16 L263.34,261.92 L263.42,287.94 L263.51,286.06 L263.59,283.84 L263.68,278.67 L263.77,279.10 L263.85,285.11 L263.94,277.68 L264.03,285.70 L264.11,278.04 L264.20,264.26 L264.29,267.63 L264.37,291.05 L264.46,265.04 L264.55,276.45 L264.63,266.76 L264.72,290.75 L264.81,274.68 L264.89,280.11 L264.98,279.88 L265.07,291.91 L265.15,282.33 L265.24,285.19 L265.33,280.61 L265.41,285.54 L265.50,269.69 L265.59,253.10 L265.67,268.93 L265.76,285.04 L265.85,278.02 L265.93,276.48 L266.02,290.65 L266.11,288.87 L266.19,281.15 L266.28,279.33 L266.37,290.25 L266.45,281.35 L266.54,291.83 L266.63,289.34 L266.71,272.36 L266.80,274.13 L266.88,268.83 L266.97,271.56 L267.06,288.77 L267.14,276.20 L267.23,289.75 L267.32,272.48 L267.40,258.78 L267.49,272.76 L267.58,264.62 L267.66,267.97 L267.75,266.15 L267.84,282.98 L267.92,277.26 L268.01,277.75 L268.10,262.79 L268.18,263.19 L268.27,290.30 L268.36,281.32 L268.44,277.90 L268.53,275.42 L268.62,286.25 L268.70,277.44 L268.79,264.51 L268.88,285.23 L268.96,290.54 L269.05,277.06 L269.14,273.90 L269.22,263.18 L269.31,267.53 L269.40,276.95 L269.48,269.51 L269.57,285.39 L269.66,263.30 L269.74,261.04 L269.83,282.67 L269.91,266.36 L270.00,286.42 L270.09,243.41 L270.17,271.41 L270.26,260.19 L270.35,274.08 L270.43,269.22 L270.52,282.60 L270.61,261.96 L270.69,289.30 L270.78,284.83 L270.87,267.00 L270.95,262.18 L271.04,264.16 L271.13,268.56 L271.21,285.78 L271.30,281.48 L271.39,260.16 L271.47,256.53 L271.56,275.20 L271.65,268.35 L271.73,285.36 L271.82,282.51 L271.91,292.24 L271.99,257.69 L272.08,268.89 L272.17,277.18 L272.25,241.23 L272.34,290.34 L272.43,275.14 L272.51,292.49 L272.60,262.43 L272.69,267.92 L272.77,265.42 L272.86,281.98 L272.95,289.38 L273.03,278.72 L273.12,259.21 L273.20,280.81 L273.29,261.28 L273.38,270.10 L273.46,265.61 L273.55,283.78 L273.64,280.72 L273.72,216.86 L273.81,275.93 L273.90,289.12 L273.98,261.78 L274.07,283.94 L274.16,284.00 L274.24,291.35 L274.33,263.11 L274.42,285.30 L274.50,284.83 L274.59,266.18 L274.68,275.51 L274.76,283.14 L274.85,263.02 L274.94,292.29 L275.02,263.21 L275.11,267.65 L275.20,266.85 L275.28,284.84 L275.37,275.04 L275.46,271.20 L275.54,290.52 L275.63,259.15 L275.72,271.48 L275.80,289.32 L275.89,274.90 L275.98,259.01 L276.06,257.33 L276.15,271.95 L276.23,285.35 L276.32,259.22 L276.41,279.24 L276.49,274.38 L276.58,265.52 L276.67,268.26 L276.75,256.18 L276.84,261.42 L276.93,267.78 L277.01,284.07 L277.10,263.60 L277.19,291.52 L277.27,290.86 L277.36,269.96 L277.45,244.95 L277.53,270.28 L277.62,291.92 L277.71,291.52 L277.79,276.96 L277.88,284.94 L277.97,274.81 L278.05,277.04 L278.14,258.14 L278.23,293.21 L278.31,288.07 L278.40,268.52 L278.49,271.44 L278.57,271.39 L278.66,284.80 L278.75,264.91 L278.83,260.70 L278.92,263.00 L279.01,242.34 L279.09,258.85 L279.18,262.27 L279.27,254.63 L279.35,270.35 L279.44,256.57 L279.52,291.72 L279.61,259.59 L279.70,280.02 L279.78,265.16 L279.87,273.82 L279.96,287.64 L280.04,289.39 L280.13,262.36 L280.22,256.21 L280.30,260.17 L280.39,266.92 L280.48,233.73 L280.56,263.64 L280.65,255.15 L280.74,240.13 L280.82,261.94 L280.91,286.51 L281.00,267.66 L281.08,262.67 L281.17,259.60 L281.26,260.68 L281.34,273.44 L281.43,288.49 L281.52,286.77 L281.60,256.98 L281.69,279.45 L281.78,287.82 L281.86,270.36 L281.95,290.95 L282.04,291.17 L282.12,252.48 L282.21,286.28 L282.30,272.19 L282.38,278.40 L282.47,290.82 L282.56,276.05 L282.64,255.21 L282.73,287.01 L282.81,249.48 L282.90,291.27 L282.99,260.24 L283.07,274.19 L283.16,271.31 L283.25,269.27 L283.33,265.96 L283.42,286.94 L283.51,265.59 L283.59,273.80 L283.68,282.17 L283.77,269.82 L283.85,281.26 L283.94,283.55 L284.03,250.63 L284.11,283.65 L284.20,253.72 L284.29,272.68 L284.37,277.94 L284.46,233.00 L284.55,292.85 L284.63,280.98 L284.72,263.35 L284.81,286.52 L284.89,277.39 L284.98,270.27 L285.07,277.04 L285.15,275.52 L285.24,278.57 L285.33,253.55 L285.41,270.65 L285.50,275.50 L285.59,261.10 L285.67,295.92 L285.76,265.21 L285.84,281.50 L285.93,290.18 L286.02,276.64 L286.10,289.37 L286.19,258.06 L286.28,258.34 L286.36,289.51 L286.45,262.53 L286.54,291.46 L286.62,279.42 L286.71,284.61 L286.80,291.42 L286.88,290.33 L286.97,257.21 L287.06,291.05 L287.14,257.19 L287.23,285.58 L287.32,270.56 L287.40,293.22 L287.49,264.66 L287.58,293.87 L287.66,265.85 L287.75,290.83 L287.84,269.92 L287.92,279.04 L288.01,256.48 L288.10,257.65 L288.18,288.15 L288.27,264.41 L288.36,233.48 L288.44,294.23 L288.53,280.06 L288.62,292.87 L288.70,279.90 L288.79,290.42 L288.88,259.33 L288.96,265.47 L289.05,259.39 L289.13,270.35 L289.22,291.26 L289.31,291.92 L289.39,279.91 L289.48,294.76 L289.57,256.19 L289.65,272.95 L289.74,247.76 L289.83,274.33 L289.91,273.27 L290.00,281.73 L290.09,280.98 L290.17,272.25 L290.26,273.35 L290.35,283.35 L290.43,240.43 L290.52,289.27 L290.61,267.04 L290.69,288.43 L290.78,261.83 L290.87,294.66 L290.95,281.53 L291.04,275.22 L291.13,260.77 L291.21,258.70 L291.30,255.34 L291.39,265.35 L291.47,269.13 L291.56,271.50 L291.65,290.96 L291.73,282.08 L291.82,258.87 L291.91,272.24 L291.99,289.54 L292.08,286.37 L292.16,261.24 L292.25,283.80 L292.34,293.95 L292.42,262.72 L292.51,274.33 L292.60,290.34 L292.68,270.36 L292.77,263.80 L292.86,294.36 L292.94,270.20 L293.03,285.45 L293.12,238.97 L293.20,292.58 L293.29,266.41 L293.38,256.45 L293.46,276.55 L293.55,290.97 L293.64,271.46 L293.72,261.12 L293.81,272.21 L293.90,283.55 L293.98,266.28 L294.07,272.64 L294.16,274.32 L294.24,287.08 L294.33,282.05 L294.42,290.82 L294.50,267.64 L294.59,276.47 L294.68,266.11 L294.76,272.67 L294.85,290.89 L294.94,288.92 L295.02,286.34 L295.11,260.47 L295.20,244.85 L295.28,283.55 L295.37,279.79 L295.45,249.51 L295.54,293.02 L295.63,277.47 L295.71,287.37 L295.80,259.41 L295.89,282.43 L295.97,288.73 L296.06,278.55 L296.15,283.72 L296.23,268.34 L296.32,271.74 L296.41,257.28 L296.49,269.75 L296.58,270.57 L296.67,274.44 L296.75,291.46 L296.84,292.95 L296.93,262.37 L297.01,285.60 L297.10,237.04 L297.19,281.98 L297.27,291.75 L297.36,274.46 L297.45,256.48 L297.53,295.88 L297.62,269.77 L297.71,266.62 L297.79,291.04 L297.88,259.24 L297.97,260.85 L298.05,290.45 L298.14,282.08 L298.23,274.55 L298.31,286.63 L298.40,266.11 L298.48,282.08 L298.57,250.89 L298.66,283.63 L298.74,283.73 L298.83,286.00 L298.92,287.86 L299.00,262.73 L299.09,291.69 L299.18,287.00 L299.26,282.23 L299.35,251.39 L299.44,274.75 L299.52,291.01 L299.61,272.39 L299.70,276.90 L299.78,250.11 L299.87,288.84 L299.96,288.80 L300.04,269.47 L300.13,282.98 L300.22,273.03 L300.30,266.42 L300.39,275.48 L300.48,285.53 L300.56,266.85 L300.65,291.00 L300.74,284.32 L300.82,266.23 L300.91,264.32 L301.00,289.05 L301.08,289.82 L301.17,290.27 L301.26,288.77 L301.34,259.30 L301.43,277.23 L301.52,271.36 L301.60,263.55 L301.69,274.30 L301.77,288.11 L301.86,261.27 L301.95,262.68 L302.03,281.59 L302.12,286.96 L302.21,277.81 L302.29,277.31 L302.38,282.18 L302.47,261.06 L302.55,274.45 L302.64,260.81 L302.73,237.04 L302.81,257.81 L302.90,262.13 L302.99,259.94 L303.07,275.81 L303.16,265.92 L303.25,283.50 L303.33,259.07 L303.42,265.71 L303.51,257.52 L303.59,274.64 L303.68,273.33 L303.77,260.05 L303.85,266.64 L303.94,283.58 L304.03,246.82 L304.11,263.94 L304.20,280.27 L304.29,260.33 L304.37,278.53 L304.46,276.58 L304.55,272.56 L304.63,289.14 L304.72,277.02 L304.80,280.78 L304.89,263.65 L304.98,280.60 L305.06,276.56 L305.15,259.11 L305.24,248.66 L305.32,286.86 L305.41,264.99 L305.50,289.59 L305.58,280.23 L305.67,292.49 L305.76,291.42 L305.84,263.17 L305.93,259.38 L306.02,265.69 L306.10,277.85 L306.19,262.50 L306.28,260.14 L306.36,282.00 L306.45,285.08 L306.54,272.67 L306.62,269.70 L306.71,265.26 L306.80,258.22 L306.88,261.77 L306.97,279.23 L307.06,288.69 L307.14,277.58 L307.23,290.93 L307.32,276.13 L307.40,293.95 L307.49,266.10 L307.58,263.87 L307.66,293.67 L307.75,266.01 L307.84,265.05 L307.92,239.70 L308.01,276.07 L308.09,264.97 L308.18,258.97 L308.27,251.77 L308.35,285.74 L308.44,291.17 L308.53,242.17 L308.61,286.06 L308.70,273.16 L308.79,279.13 L308.87,276.75 L308.96,255.63 L309.05,290.62 L309.13,269.44 L309.22,260.62 L309.31,275.87 L309.39,295.92 L309.48,277.87 L309.57,293.49 L309.65,292.80 L309.74,292.93 L309.83,292.90 L309.91,269.19 L310.00,293.00 L310.09,260.31 L310.17,289.36 L310.26,274.96 L310.35,280.46 L310.43,278.65 L310.52,294.42 L310.61,238.49 L310.69,269.70 L310.78,279.92 L310.87,280.85 L310.95,277.89 L311.04,290.35 L311.13,291.80 L311.21,265.93 L311.30,252.82 L311.38,262.70 L311.47,263.13 L311.56,286.78 L311.64,291.48 L311.73,267.75 L311.82,279.07 L311.90,293.53 L311.99,272.31 L312.08,288.29 L312.16,252.71 L312.25,263.79 L312.34,267.59 L312.42,265.35 L312.51,294.64 L312.60,268.67 L312.68,277.50 L312.77,270.38 L312.86,251.38 L312.94,262.56 L313.03,294.49 L313.12,271.33 L313.20,265.15 L313.29,278.96 L313.38,265.84 L313.46,261.16 L313.55,261.34 L313.64,267.42 L313.72,262.02 L313.81,288.64 L313.90,295.47 L313.98,250.00 L314.07,281.93 L314.16,276.76 L314.24,288.72 L314.33,288.68 L314.41,262.91 L314.50,293.08 L314.59,271.79 L314.67,236.47 L314.76,271.66 L314.85,267.60 L314.93,285.42 L315.02,262.54 L315.11,272.54 L315.19,264.83 L315.28,266.27 L315.37,267.39 L315.45,283.05 L315.54,281.24 L315.63,279.67 L315.71,276.17 L315.80,278.75 L315.89,289.40 L315.97,284.40 L316.06,290.24 L316.15,264.92 L316.23,259.86 L316.32,288.54 L316.41,273.97 L316.49,265.69 L316.58,293.66 L316.67,277.28 L316.75,275.42 L316.84,285.28 L316.93,281.71 L317.01,290.11 L317.10,267.89 L317.19,281.07 L317.27,271.07 L317.36,284.88 L317.45,284.34 L317.53,279.63 L317.62,256.08 L317.70,288.00 L317.79,285.05 L317.88,290.55 L317.96,268.99 L318.05,275.41 L318.14,292.91 L318.22,273.22 L318.31,274.40 L318.40,285.06 L318.48,276.70 L318.57,276.90 L318.66,273.60 L318.74,273.28 L318.83,272.84 L318.92,282.40 L319.00,267.47 L319.09,293.94 L319.18,284.88 L319.26,292.88 L319.35,288.99 L319.44,288.47 L319.52,277.13 L319.61,268.00 L319.70,267.82 L319.78,272.40 L319.87,291.44 L319.96,271.67 L320.04,293.07 L320.13,286.82 L320.22,278.10 L320.30,283.69 L320.39,264.03 L320.48,271.94 L320.56,291.78 L320.65,290.13 L320.73,291.63 L320.82,291.18 L320.91,289.00 L320.99,273.34 L321.08,273.98 L321.17,274.67 L321.25,279.34 L321.34,252.37 L321.43,291.07 L321.51,271.94 L321.60,267.34 L321.69,267.27 L321.77,278.92 L321.86,271.39 L321.95,281.29 L322.03,266.35 L322.12,291.82 L322.21,289.91 L322.29,267.91 L322.38,266.26 L322.47,268.00 L322.55,275.20 L322.64,275.93 L322.73,270.48 L322.81,287.24 L322.90,264.19 L322.99,291.71 L323.07,264.00 L323.16,270.06 L323.25,270.91 L323.33,273.62 L323.42,269.81 L323.51,280.82 L323.59,283.54 L323.68,280.15 L323.77,277.32 L323.85,270.13 L323.94,285.55 L324.02,258.28 L324.11,287.54 L324.20,262.63 L324.28,244.14 L324.37,269.48 L324.46,264.16 L324.54,277.38 L324.63,278.02 L324.72,281.17 L324.80,280.74 L324.89,286.83 L324.98,289.22 L325.06,275.71 L325.15,263.14 L325.24,285.80 L325.32,274.05 L325.41,269.87 L325.50,262.79 L325.58,292.43 L325.67,274.30 L325.76,295.88 L325.84,282.89 L325.93,288.10 L326.02,274.08 L326.10,289.61 L326.19,282.48 L326.28,257.31 L326.36,291.56 L326.45,272.60 L326.54,242.69 L326.62,279.81 L326.71,283.37 L326.80,278.66 L326.88,254.11 L326.97,248.54 L327.05,276.66 L327.14,272.13 L327.23,262.11 L327.31,268.78 L327.40,254.82 L327.49,284.03 L327.57,268.01 L327.66,265.93 L327.75,275.90 L327.83,266.53 L327.92,291.48 L328.01,275.49 L328.09,262.02 L328.18,293.40 L328.27,275.73 L328.35,290.05 L328.44,234.94 L328.53,276.43 L328.61,287.23 L328.70,286.45 L328.79,273.21 L328.87,258.01 L328.96,282.17 L329.05,277.52 L329.13,281.11 L329.22,287.70 L329.31,270.66 L329.39,269.92 L329.48,293.21 L329.57,261.81 L329.65,262.23 L329.74,273.92 L329.83,258.13 L329.91,282.13 L330.00,259.57 L330.09,265.93 L330.17,271.38 L330.26,241.96 L330.34,260.21 L330.43,290.10 L330.52,271.14 L330.60,277.23" fill="none" stroke="#6c2b6d" stroke-width="1.542" stroke-linejoin="round" stroke-linecap="butt"/>
<path d="M59.80,23.11 V308.91 H343.50" fill="none" stroke="#000" stroke-width="0.934" stroke-linecap="square"/>
<path d="M72.61,308.91v3.52M115.90,308.91v3.52M159.18,308.91v3.52M202.47,308.91v3.52M245.76,308.91v3.52M289.05,308.91v3.52M332.34,308.91v3.52M59.80,297.41h-3.52M59.80,257.05h-3.52M59.80,216.70h-3.52M59.80,176.34h-3.52M59.80,135.98h-3.52M59.80,95.62h-3.52M59.80,55.27h-3.52" fill="none" stroke="#000" stroke-width="0.934"/>
<text x="72.61" y="322.85" transform="rotate(0.05 72.61 322.85)" text-anchor="middle" font-size="9.34">0</text>
<text x="115.90" y="322.85" transform="rotate(0.05 115.90 322.85)" text-anchor="middle" font-size="9.34">500</text>
<text x="159.18" y="322.85" transform="rotate(0.05 159.18 322.85)" text-anchor="middle" font-size="9.34">1000</text>
<text x="202.47" y="322.85" transform="rotate(0.05 202.47 322.85)" text-anchor="middle" font-size="9.34">1500</text>
<text x="245.76" y="322.85" transform="rotate(0.05 245.76 322.85)" text-anchor="middle" font-size="9.34">2000</text>
<text x="289.05" y="322.85" transform="rotate(0.05 289.05 322.85)" text-anchor="middle" font-size="9.34">2500</text>
<text x="332.34" y="322.85" transform="rotate(0.05 332.34 322.85)" text-anchor="middle" font-size="9.34">3000</text>
<text x="53.27" y="301.11" transform="rotate(0.05 53.27 301.11)" text-anchor="end" font-size="9.34">0.020</text>
<text x="53.27" y="260.75" transform="rotate(0.05 53.27 260.75)" text-anchor="end" font-size="9.34">0.025</text>
<text x="53.27" y="220.40" transform="rotate(0.05 53.27 220.40)" text-anchor="end" font-size="9.34">0.030</text>
<text x="53.27" y="180.04" transform="rotate(0.05 53.27 180.04)" text-anchor="end" font-size="9.34">0.035</text>
<text x="53.27" y="139.68" transform="rotate(0.05 53.27 139.68)" text-anchor="end" font-size="9.34">0.040</text>
<text x="53.27" y="99.33" transform="rotate(0.05 53.27 99.33)" text-anchor="end" font-size="9.34">0.045</text>
<text x="53.27" y="58.97" transform="rotate(0.05 53.27 58.97)" text-anchor="end" font-size="9.34">0.050</text>
<text x="201.65" y="17.30" transform="rotate(0.05 201.65 17.30)" text-anchor="middle" font-size="9.34">Batch_size = 1</text>
<text transform="translate(21.08,166.01) rotate(-89.95)" text-anchor="middle" font-size="9.34">Memory</text>
<path d="M400.57,207.83 L400.74,267.91 L400.91,284.01 L401.08,251.02 L401.25,235.33 L401.42,248.21 L401.60,261.31 L401.77,227.91 L401.94,226.71 L402.11,130.97 L402.28,230.33 L402.45,245.87 L402.62,228.59 L402.79,216.29 L402.97,256.11 L403.14,233.35 L403.31,281.30 L403.48,217.52 L403.65,259.23 L403.82,250.10 L403.99,238.02 L404.16,239.98 L404.34,272.85 L404.51,237.96 L404.68,206.45 L404.85,248.86 L405.02,247.38 L405.19,240.50 L405.36,275.65 L405.53,214.91 L405.71,259.24 L405.88,226.72 L406.05,245.82 L406.22,216.53 L406.39,253.15 L406.56,214.64 L406.73,214.49 L406.90,200.22 L407.08,225.77 L407.25,265.01 L407.42,221.36 L407.59,257.77 L407.76,292.04 L407.93,266.49 L408.10,243.74 L408.27,244.14 L408.44,227.12 L408.62,224.86 L408.79,259.32 L408.96,246.15 L409.13,262.61 L409.30,242.02 L409.47,262.77 L409.64,213.58 L409.81,245.73 L409.99,242.56 L410.16,230.95 L410.33,237.83 L410.50,228.15 L410.67,244.88 L410.84,241.86 L411.01,255.39 L411.18,222.12 L411.36,248.28 L411.53,250.09 L411.70,248.39 L411.87,248.47 L412.04,249.50 L412.21,272.44 L412.38,207.35 L412.55,216.47 L412.73,251.45 L412.90,236.65 L413.07,231.50 L413.24,245.98 L413.41,231.91 L413.58,242.54 L413.75,231.42 L413.92,252.30 L414.10,254.42 L414.27,243.42 L414.44,233.58 L414.61,218.12 L414.78,249.40 L414.95,250.97 L415.12,231.88 L415.29,240.57 L415.47,209.98 L415.64,234.71 L415.81,249.46 L415.98,245.13 L416.15,285.81 L416.32,249.50 L416.49,238.60 L416.66,261.82 L416.84,240.19 L417.01,229.54 L417.18,246.50 L417.35,251.54 L417.52,251.52 L417.69,198.41 L417.86,266.07 L418.03,246.34 L418.21,248.21 L418.38,238.98 L418.55,242.64 L418.72,259.02 L418.89,242.93 L419.06,238.40 L419.23,262.54 L419.40,271.54 L419.58,239.80 L419.75,230.84 L419.92,262.27 L420.09,229.18 L420.26,262.62 L420.43,253.67 L420.60,226.81 L420.77,212.32 L420.94,242.74 L421.12,204.30 L421.29,219.86 L421.46,257.73 L421.63,236.75 L421.80,237.53 L421.97,224.39 L422.14,236.47 L422.31,245.60 L422.49,231.19 L422.66,258.70 L422.83,227.88 L423.00,275.07 L423.17,255.53 L423.34,195.71 L423.51,241.04 L423.68,229.82 L423.86,245.09 L424.03,229.47 L424.20,225.48 L424.37,243.54 L424.54,256.71 L424.71,226.55 L424.88,237.39 L425.05,235.45 L425.23,36.10 L425.40,239.68 L425.57,228.78 L425.74,268.84 L425.91,253.94 L426.08,235.44 L426.25,238.08 L426.42,239.14 L426.60,218.20 L426.77,247.16 L426.94,246.18 L427.11,208.72 L427.28,260.89 L427.45,229.81 L427.62,260.97 L427.79,209.98 L427.97,248.02 L428.14,237.14 L428.31,271.54 L428.48,241.14 L428.65,249.38 L428.82,244.44 L428.99,236.47 L429.16,260.85 L429.34,223.34 L429.51,231.62 L429.68,229.18 L429.85,236.12 L430.02,243.61 L430.19,227.33 L430.36,226.10 L430.53,243.39 L430.71,237.61 L430.88,242.22 L431.05,217.11 L431.22,243.65 L431.39,242.41 L431.56,240.41 L431.73,233.06 L431.90,234.99 L432.08,256.71 L432.25,243.95 L432.42,244.95 L432.59,241.90 L432.76,273.27 L432.93,227.59 L433.10,222.49 L433.27,214.48 L433.44,245.51 L433.62,219.80 L433.79,249.42 L433.96,251.62 L434.13,248.68 L434.30,234.55 L434.47,245.08 L434.64,227.93 L434.81,235.85 L434.99,249.42 L435.16,228.24 L435.33,249.01 L435.50,291.14 L435.67,261.29 L435.84,248.14 L436.01,218.91 L436.18,236.05 L436.36,253.73 L436.53,260.13 L436.70,248.66 L436.87,249.94 L437.04,238.76 L437.21,241.20 L437.38,247.94 L437.55,228.58 L437.73,239.37 L437.90,259.59 L438.07,263.51 L438.24,233.64 L438.41,221.61 L438.58,248.62 L438.75,222.61 L438.92,237.23 L439.10,257.14 L439.27,240.82 L439.44,226.98 L439.61,257.92 L439.78,252.58 L439.95,218.79 L440.12,201.60 L440.29,260.79 L440.47,229.72 L440.64,242.89 L440.81,261.66 L440.98,265.99 L441.15,238.93 L441.32,227.42 L441.49,233.41 L441.66,273.27 L441.84,223.18 L442.01,241.39 L442.18,257.62 L442.35,250.92 L442.52,263.16 L442.69,248.06 L442.86,247.22 L443.03,243.63 L443.21,221.61 L443.38,250.00 L443.55,270.71 L443.72,240.94 L443.89,275.97 L444.06,236.02 L444.23,258.90 L444.40,242.37 L444.58,258.27 L444.75,252.62 L444.92,247.02 L445.09,225.74 L445.26,252.00 L445.43,243.13 L445.60,219.81 L445.77,253.83 L445.95,255.67 L446.12,248.12 L446.29,233.97 L446.46,261.35 L446.63,234.79 L446.80,259.25 L446.97,284.01 L447.14,253.74 L447.31,250.31 L447.49,251.55 L447.66,229.15 L447.83,206.79 L448.00,229.61 L448.17,251.22 L448.34,249.46 L448.51,221.20 L448.68,268.91 L448.86,258.24 L449.03,248.51 L449.20,217.73 L449.37,254.45 L449.54,233.63 L449.71,221.30 L449.88,249.26 L450.05,248.40 L450.23,219.86 L450.40,253.78 L450.57,260.83 L450.74,233.13 L450.91,253.43 L451.08,217.11 L451.25,237.84 L451.42,271.12 L451.60,242.10 L451.77,246.39 L451.94,281.30 L452.11,229.39 L452.28,271.81 L452.45,264.62 L452.62,254.10 L452.79,234.87 L452.97,268.93 L453.14,256.42 L453.31,257.62 L453.48,268.77 L453.65,253.29 L453.82,275.97 L453.99,254.42 L454.16,243.93 L454.34,260.95 L454.51,260.46 L454.68,215.73 L454.85,260.27 L455.02,270.16 L455.19,264.89 L455.36,247.07 L455.53,260.85 L455.71,236.20 L455.88,260.03 L456.05,242.12 L456.22,269.42 L456.39,252.70 L456.56,256.48 L456.73,250.18 L456.90,229.10 L457.08,251.40 L457.25,265.37 L457.42,247.41 L457.59,262.07 L457.76,204.65 L457.93,225.31 L458.10,234.93 L458.27,272.44 L458.45,241.07 L458.62,249.20 L458.79,269.27 L458.96,255.17 L459.13,255.90 L459.30,238.98 L459.47,234.40 L459.64,241.95 L459.81,226.04 L459.99,254.82 L460.16,228.59 L460.33,251.75 L460.50,246.20 L460.67,239.97 L460.84,247.62 L461.01,250.36 L461.18,242.24 L461.36,285.81 L461.53,246.38 L461.70,269.20 L461.87,205.55 L462.04,225.24 L462.21,267.99 L462.38,242.58 L462.55,244.87 L462.73,246.21 L462.90,257.73 L463.07,235.32 L463.24,244.41 L463.41,253.37 L463.58,266.35 L463.75,251.97 L463.92,279.50 L464.10,264.49 L464.27,243.94 L464.44,241.18 L464.61,237.74 L464.78,247.46 L464.95,234.98 L465.12,241.33 L465.29,238.52 L465.47,259.15 L465.64,241.40 L465.81,260.50 L465.98,235.86 L466.15,242.82 L466.32,245.35 L466.49,251.39 L466.66,230.48 L466.84,260.34 L467.01,251.51 L467.18,252.26 L467.35,245.07 L467.52,266.67 L467.69,252.68 L467.86,264.86 L468.03,251.16 L468.21,242.61 L468.38,275.07 L468.55,254.65 L468.72,238.34 L468.89,254.43 L469.06,269.83 L469.23,241.90 L469.40,252.33 L469.58,248.31 L469.75,243.05 L469.92,246.99 L470.09,246.56 L470.26,232.83 L470.43,235.97 L470.60,254.54 L470.77,246.43 L470.95,240.37 L471.12,242.86 L471.29,254.57 L471.46,251.87 L471.63,241.03 L471.80,245.06 L471.97,237.77 L472.14,255.03 L472.31,251.88 L472.49,242.31 L472.66,259.92 L472.83,270.64 L473.00,263.72 L473.17,247.04 L473.34,253.45 L473.51,245.11 L473.68,243.23 L473.86,230.48 L474.03,243.62 L474.20,248.13 L474.37,238.27 L474.54,250.06 L474.71,255.91 L474.88,242.93 L475.05,231.66 L475.23,238.66 L475.40,247.58 L475.57,243.91 L475.74,268.42 L475.91,213.58 L476.08,252.80 L476.25,256.17 L476.42,277.77 L476.60,250.01 L476.77,243.90 L476.94,223.09 L477.11,257.80 L477.28,260.22 L477.45,235.54 L477.62,246.78 L477.79,259.70 L477.97,228.00 L478.14,251.32 L478.31,284.91 L478.48,256.09 L478.65,259.74 L478.82,246.96 L478.99,260.10 L479.16,223.34 L479.34,243.70 L479.51,251.44 L479.68,257.84 L479.85,244.76 L480.02,234.69 L480.19,244.99 L480.36,262.41 L480.53,251.31 L480.71,269.35 L480.88,228.66 L481.05,238.96 L481.22,245.48 L481.39,244.30 L481.56,255.48 L481.73,250.27 L481.90,224.59 L482.08,248.90 L482.25,240.06 L482.42,245.18 L482.59,245.00 L482.76,280.40 L482.93,233.55 L483.10,252.03 L483.27,238.53 L483.45,258.32 L483.62,255.67 L483.79,257.39 L483.96,235.84 L484.13,252.08 L484.30,230.35 L484.47,261.32 L484.64,242.40 L484.81,263.13 L484.99,231.63 L485.16,257.18 L485.33,241.30 L485.50,257.18 L485.67,258.23 L485.84,244.47 L486.01,270.83 L486.18,264.00 L486.36,216.77 L486.53,259.18 L486.70,236.03 L486.87,286.71 L487.04,270.18 L487.21,253.91 L487.38,235.36 L487.55,248.69 L487.73,252.48 L487.90,235.67 L488.07,258.76 L488.24,237.77 L488.41,243.95 L488.58,262.46 L488.75,235.00 L488.92,232.15 L489.10,252.26 L489.27,247.14 L489.44,212.13 L489.61,263.97 L489.78,237.37 L489.95,262.52 L490.12,241.36 L490.29,265.31 L490.47,248.95 L490.64,240.12 L490.81,245.70 L490.98,221.96 L491.15,250.13 L491.32,246.86 L491.49,247.31 L491.66,252.40 L491.84,229.52 L492.01,226.70 L492.18,238.78 L492.35,262.18 L492.52,242.04 L492.69,247.78 L492.86,254.68 L493.03,223.34 L493.21,235.47 L493.38,230.77 L493.55,243.87 L493.72,241.71 L493.89,259.55 L494.06,259.98 L494.23,245.11 L494.40,248.19 L494.58,237.84 L494.75,283.11 L494.92,238.25 L495.09,255.38 L495.26,261.79 L495.43,240.90 L495.60,252.57 L495.77,246.98 L495.95,242.39 L496.12,247.08 L496.29,267.75 L496.46,240.25 L496.63,219.26 L496.80,251.78 L496.97,242.70 L497.14,268.21 L497.31,252.73 L497.49,273.25 L497.66,256.71 L497.83,244.45 L498.00,251.49 L498.17,253.43 L498.34,284.56 L498.51,255.26 L498.68,270.87 L498.86,234.72 L499.03,247.32 L499.20,239.03 L499.37,255.87 L499.54,256.27 L499.71,260.33 L499.88,275.66 L500.05,256.95 L500.23,258.75 L500.40,251.66 L500.57,275.64 L500.74,230.48 L500.91,253.72 L501.08,252.54 L501.25,253.60 L501.42,248.72 L501.60,239.73 L501.77,273.14 L501.94,277.77 L502.11,255.84 L502.28,264.99 L502.45,237.53 L502.62,238.55 L502.79,253.77 L502.97,267.28 L503.14,267.44 L503.31,259.48 L503.48,252.99 L503.65,259.33 L503.82,267.88 L503.99,261.43 L504.16,255.69 L504.34,213.58 L504.51,240.61 L504.68,235.35 L504.85,235.01 L505.02,257.60 L505.19,257.85 L505.36,265.25 L505.53,233.70 L505.71,259.56 L505.88,262.38 L506.05,241.56 L506.22,250.22 L506.39,246.19 L506.56,253.27 L506.73,220.71 L506.90,263.75 L507.08,253.80 L507.25,241.37 L507.42,259.01 L507.59,269.41 L507.76,281.30 L507.93,241.01 L508.10,248.53 L508.27,271.70 L508.45,248.55 L508.62,244.31 L508.79,245.96 L508.96,236.58 L509.13,271.86 L509.30,265.18 L509.47,266.83 L509.64,250.77 L509.82,251.03 L509.99,232.28 L510.16,247.79 L510.33,240.09 L510.50,258.75 L510.67,240.94 L510.84,254.26 L511.01,250.87 L511.18,286.29 L511.36,258.52 L511.53,259.64 L511.70,262.60 L511.87,263.97 L512.04,235.42 L512.21,257.91 L512.38,267.73 L512.55,249.88 L512.73,245.97 L512.90,266.12 L513.07,222.51 L513.24,262.14 L513.41,265.26 L513.58,283.11 L513.75,236.12 L513.92,271.26 L514.10,245.00 L514.27,271.87 L514.44,253.45 L514.61,271.86 L514.78,270.49 L514.95,225.14 L515.12,237.82 L515.29,240.27 L515.47,254.72 L515.64,257.18 L515.81,251.17 L515.98,259.37 L516.15,247.67 L516.32,254.68 L516.49,259.46 L516.66,257.13 L516.84,243.52 L517.01,244.14 L517.18,251.39 L517.35,262.37 L517.52,278.67 L517.69,254.18 L517.86,242.91 L518.03,222.51 L518.21,269.88 L518.38,235.79 L518.55,252.80 L518.72,239.30 L518.89,234.04 L519.06,257.18 L519.23,242.54 L519.40,261.37 L519.58,275.55 L519.75,250.55 L519.92,276.64 L520.09,251.65 L520.26,219.81 L520.43,246.63 L520.60,241.78 L520.77,252.98 L520.95,271.28 L521.12,250.07 L521.29,262.24 L521.46,247.47 L521.63,258.50 L521.80,250.67 L521.97,259.66 L522.14,278.66 L522.32,264.63 L522.49,250.68 L522.66,257.87 L522.83,230.07 L523.00,218.91 L523.17,251.63 L523.34,268.40 L523.51,271.96 L523.68,236.95 L523.86,289.89 L524.03,262.00 L524.20,261.47 L524.37,244.81 L524.54,240.84 L524.71,262.58 L524.88,275.22 L525.05,237.32 L525.23,261.55 L525.40,276.78 L525.57,253.91 L525.74,247.95 L525.91,236.21 L526.08,257.27 L526.25,246.86 L526.42,226.04 L526.60,243.88 L526.77,272.66 L526.94,241.63 L527.11,248.46 L527.28,272.36 L527.45,259.86 L527.62,239.36 L527.79,265.86 L527.97,274.12 L528.14,255.06 L528.31,248.42 L528.48,238.16 L528.65,282.20 L528.82,257.51 L528.99,254.26 L529.16,238.83 L529.34,253.48 L529.51,242.17 L529.68,276.14 L529.85,210.88 L530.02,252.14 L530.19,234.50 L530.36,243.55 L530.53,247.42 L530.71,233.58 L530.88,248.05 L531.05,241.13 L531.22,263.71 L531.39,248.73 L531.56,221.22 L531.73,238.17 L531.90,245.66 L532.08,234.51 L532.25,257.33 L532.42,248.80 L532.59,247.86 L532.76,219.72 L532.93,245.50 L533.10,277.43 L533.27,251.18 L533.45,246.63 L533.62,265.13 L533.79,241.04 L533.96,256.63 L534.13,240.49 L534.30,235.72 L534.47,244.87 L534.64,265.92 L534.82,255.29 L534.99,217.11 L535.16,261.46 L535.33,247.86 L535.50,251.51 L535.67,256.73 L535.84,231.49 L536.01,246.34 L536.18,251.78 L536.36,248.89 L536.53,266.41 L536.70,254.30 L536.87,240.42 L537.04,223.34 L537.21,256.76 L537.38,237.98 L537.55,266.96 L537.73,246.18 L537.90,275.65 L538.07,252.39 L538.24,251.77 L538.41,281.30 L538.58,271.36 L538.75,243.71 L538.92,241.53 L539.10,243.80 L539.27,251.97 L539.44,218.91 L539.61,248.89 L539.78,233.55 L539.95,269.53 L540.12,263.80 L540.29,235.24 L540.47,256.19 L540.64,262.24 L540.81,244.24 L540.98,269.61 L541.15,249.40 L541.32,265.36 L541.49,260.23 L541.66,221.61 L541.84,248.41 L542.01,247.92 L542.18,254.01 L542.35,260.56 L542.52,248.24 L542.69,229.69 L542.86,238.68 L543.03,261.35 L543.21,248.27 L543.38,211.78 L543.55,243.94 L543.72,262.80 L543.89,283.11 L544.06,262.64 L544.23,265.61 L544.40,247.15 L544.58,227.93 L544.75,274.85 L544.92,251.65 L545.09,243.25 L545.26,260.67 L545.43,272.68 L545.60,236.11 L545.77,262.61 L545.95,257.38 L546.12,238.96 L546.29,252.35 L546.46,238.51 L546.63,256.25 L546.80,258.55 L546.97,250.91 L547.14,266.02 L547.32,262.88 L547.49,258.34 L547.66,253.65 L547.83,256.34 L548.00,247.93 L548.17,244.96 L548.34,284.01 L548.51,263.04 L548.68,274.68 L548.86,266.19 L549.03,263.63 L549.20,258.29 L549.37,241.91 L549.54,228.75 L549.71,267.63 L549.88,272.39 L550.05,257.11 L550.23,258.96 L550.40,269.41 L550.57,258.02 L550.74,260.35 L550.91,250.55 L551.08,253.19 L551.25,274.64 L551.42,261.74 L551.60,258.71 L551.77,268.57 L551.94,277.77 L552.11,264.51 L552.28,227.85 L552.45,264.72 L552.62,233.76 L552.79,242.30 L552.97,251.05 L553.14,252.69 L553.31,236.51 L553.48,260.64 L553.65,250.23 L553.82,259.13 L553.99,234.63 L554.16,259.77 L554.34,259.18 L554.51,214.48 L554.68,252.70 L554.85,260.61 L555.02,248.33 L555.19,274.36 L555.36,267.00 L555.53,238.21 L555.71,265.77 L555.88,291.69 L556.05,243.80 L556.22,255.32 L556.39,255.60 L556.56,239.88 L556.73,262.94 L556.90,248.62 L557.08,259.72 L557.25,270.15 L557.42,255.81 L557.59,230.48 L557.76,258.42 L557.93,264.79 L558.10,258.79 L558.27,262.13 L558.45,249.28 L558.62,286.71 L558.79,243.88 L558.96,250.45 L559.13,239.33 L559.30,261.54 L559.47,243.05 L559.64,268.00 L559.82,247.55 L559.99,258.50 L560.16,269.37 L560.33,244.85 L560.50,248.91 L560.67,263.27 L560.84,249.35 L561.01,258.43 L561.19,248.36 L561.36,234.63 L561.53,253.52 L561.70,273.45 L561.87,253.46 L562.04,251.88 L562.21,260.31 L562.38,241.08 L562.55,256.88 L562.73,248.82 L562.90,247.93 L563.07,256.74 L563.24,249.95 L563.41,282.20 L563.58,252.96 L563.75,267.55 L563.92,254.42 L564.10,273.36 L564.27,246.49 L564.44,246.49 L564.61,249.45 L564.78,260.94 L564.95,250.96 L565.12,270.52 L565.29,264.64 L565.47,249.10 L565.64,263.35 L565.81,258.07 L565.98,255.26 L566.15,231.03 L566.32,263.41 L566.49,262.04 L566.66,263.82 L566.84,275.64 L567.01,252.66 L567.18,250.38 L567.35,265.39 L567.52,282.20 L567.69,255.40 L567.86,249.67 L568.03,267.88 L568.21,232.90 L568.38,259.13 L568.55,230.40 L568.72,262.47 L568.89,252.46 L569.06,252.08 L569.23,258.49 L569.40,251.79 L569.58,268.40 L569.75,268.62 L569.92,262.67 L570.09,268.44 L570.26,243.52 L570.43,239.79 L570.60,222.10 L570.77,241.99 L570.95,263.59 L571.12,258.74 L571.29,265.10 L571.46,278.67 L571.63,261.35 L571.80,236.98 L571.97,236.95 L572.14,247.01 L572.32,250.96 L572.49,267.06 L572.66,241.82 L572.83,245.17 L573.00,238.12 L573.17,248.71 L573.34,269.06 L573.51,267.87 L573.69,240.13 L573.86,265.51 L574.03,256.58 L574.20,232.28 L574.37,248.68 L574.54,250.27 L574.71,248.98 L574.88,256.54 L575.05,250.52 L575.23,260.56 L575.40,254.73 L575.57,243.75 L575.74,252.63 L575.91,261.43 L576.08,249.26 L576.25,267.53 L576.42,261.84 L576.60,266.88 L576.77,277.77 L576.94,244.34 L577.11,258.23 L577.28,214.97 L577.45,246.85 L577.62,250.02 L577.79,273.72 L577.97,239.75 L578.14,240.43 L578.31,256.99 L578.48,254.63 L578.65,255.09 L578.82,259.96 L578.99,247.73 L579.16,263.22 L579.34,257.90 L579.51,252.09 L579.68,275.74 L579.85,260.78 L580.02,270.31 L580.19,260.28 L580.36,230.48 L580.53,257.14 L580.71,252.93 L580.88,267.99 L581.05,251.03 L581.22,288.44 L581.39,242.07 L581.56,256.34 L581.73,244.32 L581.90,279.91 L582.08,236.08 L582.25,259.38 L582.42,251.15 L582.59,254.36 L582.76,207.35 L582.93,261.84 L583.10,247.73 L583.27,238.33 L583.45,229.42 L583.62,263.76 L583.79,236.89 L583.96,283.11 L584.13,251.06 L584.30,257.71 L584.47,247.57 L584.64,264.33 L584.82,260.34 L584.99,262.96 L585.16,265.74 L585.33,263.28 L585.50,247.62 L585.67,246.63 L585.84,266.76 L586.01,257.25 L586.19,258.88 L586.36,279.05 L586.53,240.17 L586.70,270.77 L586.87,239.94 L587.04,241.98 L587.21,266.70 L587.38,245.37 L587.55,250.13 L587.73,249.17 L587.90,257.11 L588.07,231.03 L588.24,255.69 L588.41,251.69 L588.58,266.24 L588.75,267.25 L588.92,236.47 L589.10,236.44 L589.27,250.79 L589.44,264.23 L589.61,238.44 L589.78,255.70 L589.95,242.64 L590.12,248.57 L590.29,254.45 L590.47,257.00 L590.64,284.01 L590.81,265.90 L590.98,257.90 L591.15,246.06 L591.32,271.64 L591.49,258.39 L591.66,261.55 L591.84,261.04 L592.01,246.70 L592.18,264.29 L592.35,262.32 L592.52,233.18 L592.69,268.18 L592.86,252.53 L593.03,262.17 L593.21,251.43 L593.38,250.27 L593.55,271.01 L593.72,280.82 L593.89,284.91 L594.06,257.17 L594.23,269.69 L594.40,275.56 L594.58,265.61 L594.75,263.08 L594.92,247.29 L595.09,266.55 L595.26,269.02 L595.43,256.27 L595.60,251.89 L595.77,246.26 L595.95,253.69 L596.12,251.58 L596.29,246.87 L596.46,265.88 L596.63,263.34 L596.80,246.30 L596.97,294.18 L597.14,263.75 L597.32,231.72 L597.49,247.45 L597.66,251.15 L597.83,271.04 L598.00,265.97 L598.17,258.08 L598.34,260.24 L598.51,258.43 L598.69,267.06 L598.86,259.62 L599.03,251.00 L599.20,275.76 L599.37,251.11 L599.54,268.50 L599.71,268.49 L599.88,246.39 L600.05,242.51 L600.23,261.27 L600.40,243.90 L600.57,266.28 L600.74,260.80 L600.91,266.03 L601.08,254.28 L601.25,264.75 L601.42,254.34 L601.60,260.84 L601.77,256.31 L601.94,255.41 L602.11,265.34 L602.28,261.54 L602.45,271.79 L602.62,249.05 L602.79,245.52 L602.97,261.41 L603.14,260.37 L603.31,263.95 L603.48,234.63 L603.65,288.44 L603.82,279.46 L603.99,276.33 L604.16,255.63 L604.34,243.16 L604.51,266.06 L604.68,244.40 L604.85,242.06 L605.02,254.93 L605.19,263.47 L605.36,258.00 L605.53,254.39 L605.71,272.14 L605.88,270.63 L606.05,254.73 L606.22,210.53 L606.39,259.15 L606.56,256.95 L606.73,254.69 L606.90,244.32 L607.08,239.81 L607.25,243.68 L607.42,268.39 L607.59,275.97 L607.76,243.71 L607.93,258.93 L608.10,217.11 L608.27,255.39 L608.45,264.23 L608.62,227.24 L608.79,246.71 L608.96,244.51 L609.13,253.63 L609.30,249.57 L609.47,259.72 L609.64,247.21 L609.82,258.86 L609.99,240.10 L610.16,253.69 L610.33,210.88 L610.50,274.03 L610.67,248.56 L610.84,249.54 L611.01,265.60 L611.19,253.97 L611.36,254.93 L611.53,237.40 L611.70,269.12 L611.87,238.03 L612.04,253.12 L612.21,253.73 L612.38,245.45 L612.55,221.61 L612.73,275.72 L612.90,254.41 L613.07,281.30 L613.24,244.54 L613.41,235.86 L613.58,264.20 L613.75,234.55 L613.92,267.25 L614.10,247.90 L614.27,249.85 L614.44,239.50 L614.61,258.68 L614.78,244.92 L614.95,225.40 L615.12,273.19 L615.29,234.48 L615.47,268.33 L615.64,216.21 L615.81,257.65 L615.98,226.73 L616.15,255.48 L616.32,259.23 L616.49,291.14 L616.66,255.03 L616.84,254.30 L617.01,234.36 L617.18,225.90 L617.35,235.71 L617.52,280.63 L617.69,244.68 L617.86,245.36 L618.03,235.13 L618.21,231.66 L618.38,232.14 L618.55,241.52 L618.72,253.10 L618.89,252.41 L619.06,260.60 L619.23,269.98 L619.40,256.05 L619.58,235.99 L619.75,249.33 L619.92,224.85 L620.09,249.97 L620.26,258.54 L620.43,206.79 L620.60,253.24 L620.77,229.51 L620.95,285.84 L621.12,271.03 L621.29,258.61 L621.46,266.90 L621.63,245.84 L621.80,248.90 L621.97,246.39 L622.14,264.74 L622.32,264.51 L622.49,295.22 L622.66,255.88 L622.83,226.04 L623.00,234.93 L623.17,264.62 L623.34,274.34 L623.51,249.64 L623.69,234.95 L623.86,278.82 L624.03,261.03 L624.20,241.51 L624.37,256.97 L624.54,257.59 L624.71,239.18 L624.88,204.30 L625.06,249.64 L625.23,260.82 L625.40,247.90 L625.57,260.85 L625.74,227.29 L625.91,241.34 L626.08,250.65 L626.25,239.51 L626.42,267.82 L626.60,241.88 L626.77,277.77 L626.94,240.01 L627.11,262.03 L627.28,219.81 L627.45,246.27 L627.62,252.90 L627.79,242.17 L627.97,259.10 L628.14,250.41 L628.31,248.78 L628.48,253.05 L628.65,246.11 L628.82,255.89 L628.99,229.43 L629.16,247.26 L629.34,255.10 L629.51,220.70 L629.68,273.01 L629.85,213.58 L630.02,263.73 L630.19,268.82 L630.36,244.21 L630.53,257.72 L630.71,266.57 L630.88,295.92 L631.05,271.59 L631.22,241.14 L631.39,241.91 L631.56,241.36 L631.73,262.02 L631.90,262.09 L632.08,243.47 L632.25,255.37 L632.42,242.96 L632.59,233.35 L632.76,257.33 L632.93,242.99 L633.10,282.78 L633.27,267.29 L633.45,225.14 L633.62,249.62 L633.79,290.24 L633.96,249.71 L634.13,247.63 L634.30,252.92 L634.47,261.74 L634.64,246.53 L634.82,230.40 L634.99,281.12 L635.16,259.24 L635.33,264.00 L635.50,268.92 L635.67,251.67 L635.84,254.00 L636.01,257.84 L636.19,236.63 L636.36,235.77 L636.53,239.54 L636.70,224.24 L636.87,236.90 L637.04,248.38 L637.21,242.54 L637.38,238.32 L637.56,225.16 L637.73,232.97 L637.90,203.75 L638.07,273.58 L638.24,246.10 L638.41,247.94 L638.58,259.14 L638.75,266.82 L638.92,239.94 L639.10,249.80 L639.27,255.97 L639.44,268.18 L639.61,263.04 L639.78,277.77 L639.95,246.54 L640.12,259.04 L640.29,248.63 L640.47,247.35 L640.64,244.91 L640.81,244.44 L640.98,268.10 L641.15,231.38 L641.32,252.62 L641.49,240.07 L641.66,245.95 L641.84,269.00 L642.01,255.32 L642.18,253.21 L642.35,266.85 L642.52,236.92 L642.69,215.73 L642.86,244.31 L643.03,244.21 L643.21,281.19 L643.38,247.88 L643.55,243.81 L643.72,260.58 L643.89,258.87 L644.06,242.02 L644.23,266.62 L644.40,254.02 L644.58,268.75 L644.75,263.22 L644.92,240.44 L645.09,292.04 L645.26,265.52 L645.43,237.26 L645.60,248.91 L645.77,250.91 L645.95,208.25 L646.12,259.98 L646.29,250.24 L646.46,235.58 L646.63,242.44 L646.80,258.01 L646.97,232.91 L647.14,259.43 L647.32,245.63 L647.49,264.83 L647.66,265.35 L647.83,269.44 L648.00,248.14 L648.17,269.27 L648.34,251.32 L648.51,224.60 L648.69,215.38 L648.86,252.24 L649.03,282.20 L649.20,273.78 L649.37,244.21 L649.54,233.28 L649.71,264.00 L649.88,253.10 L650.06,256.07 L650.23,265.19 L650.40,218.91 L650.57,236.42 L650.74,229.12 L650.91,262.42 L651.08,224.80 L651.25,246.18 L651.42,255.68 L651.60,279.85 L651.77,274.50 L651.94,288.44 L652.11,265.89 L652.28,240.20 L652.45,274.28 L652.62,237.18 L652.79,255.39 L652.97,248.68 L653.14,268.53 L653.31,261.68 L653.48,247.01 L653.65,252.86 L653.82,269.92 L653.99,223.34 L654.16,277.83 L654.34,246.36 L654.51,295.57 L654.68,262.98 L654.85,260.00 L655.02,271.00 L655.19,254.11 L655.36,253.87 L655.53,255.85 L655.71,227.01 L655.88,256.77 L656.05,253.04 L656.22,264.02 L656.39,258.21 L656.56,273.35 L656.73,239.23 L656.90,275.13 L657.08,220.71 L657.25,237.64 L657.42,252.04 L657.59,245.66 L657.76,250.61 L657.93,284.91" fill="none" stroke="#8f3371" stroke-width="1.542" stroke-linejoin="round" stroke-linecap="butt"/>
<path d="M387.70,23.11 V308.91 H670.80" fill="none" stroke="#000" stroke-width="0.934" stroke-linecap="square"/>
<path d="M400.40,308.91v3.52M434.64,308.91v3.52M468.89,308.91v3.52M503.14,308.91v3.52M537.38,308.91v3.52M571.63,308.91v3.52M605.88,308.91v3.52M640.12,308.91v3.52M387.70,305.47h-3.52M387.70,270.85h-3.52M387.70,236.22h-3.52M387.70,201.60h-3.52M387.70,166.98h-3.52M387.70,132.35h-3.52M387.70,97.73h-3.52M387.70,63.10h-3.52M387.70,28.48h-3.52" fill="none" stroke="#000" stroke-width="0.934"/>
<text x="400.40" y="322.85" transform="rotate(0.05 400.40 322.85)" text-anchor="middle" font-size="9.34">0</text>
<text x="434.64" y="322.85" transform="rotate(0.05 434.64 322.85)" text-anchor="middle" font-size="9.34">200</text>
<text x="468.89" y="322.85" transform="rotate(0.05 468.89 322.85)" text-anchor="middle" font-size="9.34">400</text>
<text x="503.14" y="322.85" transform="rotate(0.05 503.14 322.85)" text-anchor="middle" font-size="9.34">600</text>
<text x="537.38" y="322.85" transform="rotate(0.05 537.38 322.85)" text-anchor="middle" font-size="9.34">800</text>
<text x="571.63" y="322.85" transform="rotate(0.05 571.63 322.85)" text-anchor="middle" font-size="9.34">1000</text>
<text x="605.88" y="322.85" transform="rotate(0.05 605.88 322.85)" text-anchor="middle" font-size="9.34">1200</text>
<text x="640.12" y="322.85" transform="rotate(0.05 640.12 322.85)" text-anchor="middle" font-size="9.34">1400</text>
<text x="381.18" y="309.17" transform="rotate(0.05 381.18 309.17)" text-anchor="end" font-size="9.34">0.020</text>
<text x="381.18" y="274.55" transform="rotate(0.05 381.18 274.55)" text-anchor="end" font-size="9.34">0.025</text>
<text x="381.18" y="239.93" transform="rotate(0.05 381.18 239.93)" text-anchor="end" font-size="9.34">0.030</text>
<text x="381.18" y="205.30" transform="rotate(0.05 381.18 205.30)" text-anchor="end" font-size="9.34">0.035</text>
<text x="381.18" y="170.68" transform="rotate(0.05 381.18 170.68)" text-anchor="end" font-size="9.34">0.040</text>
<text x="381.18" y="136.05" transform="rotate(0.05 381.18 136.05)" text-anchor="end" font-size="9.34">0.045</text>
<text x="381.18" y="101.43" transform="rotate(0.05 381.18 101.43)" text-anchor="end" font-size="9.34">0.050</text>
<text x="381.18" y="66.81" transform="rotate(0.05 381.18 66.81)" text-anchor="end" font-size="9.34">0.055</text>
<text x="381.18" y="32.18" transform="rotate(0.05 381.18 32.18)" text-anchor="end" font-size="9.34">0.060</text>
<text x="529.25" y="17.30" transform="rotate(0.05 529.25 17.30)" text-anchor="middle" font-size="9.34">Batch_size = 2</text>
<path d="M727.83,218.38 L728.17,210.81 L728.51,230.93 L728.85,218.11 L729.20,179.38 L729.54,274.65 L729.88,221.86 L730.23,246.29 L730.57,187.12 L730.91,259.21 L731.25,217.70 L731.60,235.76 L731.94,264.14 L732.28,214.44 L732.63,231.81 L732.97,214.09 L733.31,236.97 L733.65,197.12 L734.00,179.38 L734.34,239.79 L734.68,259.33 L735.03,215.61 L735.37,193.88 L735.71,247.47 L736.05,247.71 L736.40,224.80 L736.74,239.62 L737.08,229.93 L737.43,257.85 L737.77,198.72 L738.11,251.36 L738.45,278.64 L738.80,209.45 L739.14,251.72 L739.48,267.97 L739.83,207.42 L740.17,255.78 L740.51,228.01 L740.85,287.34 L741.20,233.61 L741.54,271.85 L741.88,237.56 L742.23,233.61 L742.57,243.68 L742.91,229.47 L743.25,229.93 L743.60,259.63 L743.94,222.64 L744.28,239.68 L744.63,221.78 L744.97,261.82 L745.31,234.53 L745.65,257.50 L746.00,263.22 L746.34,211.93 L746.68,267.63 L747.03,295.92 L747.37,241.86 L747.71,250.81 L748.05,215.66 L748.40,255.69 L748.74,211.29 L749.08,271.43 L749.43,231.77 L749.77,243.85 L750.11,230.30 L750.45,247.36 L750.80,237.50 L751.14,249.05 L751.48,243.17 L751.83,215.54 L752.17,275.35 L752.51,200.33 L752.85,272.29 L753.20,233.63 L753.54,265.38 L753.88,231.64 L754.23,213.86 L754.57,256.16 L754.91,242.01 L755.26,249.61 L755.60,245.91 L755.94,284.31 L756.28,237.64 L756.63,212.15 L756.97,255.95 L757.31,250.91 L757.66,217.92 L758.00,221.93 L758.34,203.55 L758.68,247.48 L759.03,227.70 L759.37,242.69 L759.71,229.51 L760.06,201.62 L760.40,261.24 L760.74,203.42 L761.08,235.31 L761.43,222.55 L761.77,245.00 L762.11,219.37 L762.46,267.39 L762.80,226.30 L763.14,185.63 L763.48,247.79 L763.83,235.87 L764.17,270.29 L764.51,287.34 L764.86,227.45 L765.20,249.72 L765.54,240.12 L765.88,222.89 L766.23,252.59 L766.57,248.00 L766.91,242.74 L767.26,248.66 L767.60,249.73 L767.94,227.05 L768.28,248.71 L768.63,227.99 L768.97,265.69 L769.31,225.32 L769.66,248.74 L770.00,233.53 L770.34,234.41 L770.68,188.92 L771.03,271.81 L771.37,279.80 L771.71,227.09 L772.06,267.64 L772.40,194.53 L772.74,259.68 L773.08,235.56 L773.43,286.51 L773.77,241.16 L774.11,249.09 L774.46,232.98 L774.80,210.90 L775.14,255.47 L775.48,224.81 L775.83,267.02 L776.17,271.68 L776.51,230.69 L776.86,244.25 L777.20,234.94 L777.54,232.32 L777.88,244.20 L778.23,210.96 L778.57,243.56 L778.91,230.27 L779.26,200.33 L779.60,231.53 L779.94,223.98 L780.29,230.58 L780.63,159.21 L780.97,230.26 L781.31,201.72 L781.66,218.48 L782.00,233.23 L782.34,245.64 L782.69,215.73 L783.03,233.04 L783.37,209.05 L783.71,213.41 L784.06,233.31 L784.40,197.56 L784.74,247.62 L785.09,216.11 L785.43,229.24 L785.77,203.19 L786.11,195.30 L786.46,232.35 L786.80,209.17 L787.14,221.78 L787.49,256.79 L787.83,219.42 L788.17,202.80 L788.51,232.41 L788.86,226.96 L789.20,236.08 L789.54,202.00 L789.89,245.83 L790.23,224.24 L790.57,211.79 L790.91,250.66 L791.26,191.31 L791.60,232.02 L791.94,222.14 L792.29,240.26 L792.63,260.53 L792.97,214.10 L793.31,245.12 L793.66,238.12 L794.00,216.12 L794.34,248.38 L794.69,277.61 L795.03,244.25 L795.37,233.70 L795.71,255.97 L796.06,229.82 L796.40,228.04 L796.74,258.23 L797.09,224.73 L797.43,250.21 L797.77,231.36 L798.11,283.54 L798.46,239.53 L798.80,191.31 L799.14,256.12 L799.49,291.40 L799.83,221.99 L800.17,276.22 L800.51,275.60 L800.86,219.81 L801.20,240.99 L801.54,196.08 L801.89,255.40 L802.23,240.51 L802.57,230.11 L802.91,246.54 L803.26,212.23 L803.60,237.34 L803.94,225.28 L804.29,273.16 L804.63,202.37 L804.97,245.66 L805.32,216.81 L805.66,242.18 L806.00,231.46 L806.34,207.21 L806.69,199.04 L807.03,260.49 L807.37,201.69 L807.72,234.60 L808.06,231.27 L808.40,271.68 L808.74,204.59 L809.09,166.36 L809.43,242.32 L809.77,225.02 L810.12,228.32 L810.46,250.52 L810.80,193.24 L811.14,247.42 L811.49,200.12 L811.83,257.91 L812.17,249.42 L812.52,283.99 L812.86,169.33 L813.20,240.77 L813.54,251.70 L813.89,226.70 L814.23,272.83 L814.57,231.13 L814.92,198.40 L815.26,249.72 L815.60,248.77 L815.94,235.07 L816.29,283.54 L816.63,234.92 L816.97,250.96 L817.32,226.72 L817.66,236.29 L818.00,206.77 L818.34,237.98 L818.69,212.51 L819.03,252.89 L819.37,229.33 L819.72,261.24 L820.06,223.62 L820.40,171.26 L820.74,229.35 L821.09,227.00 L821.43,230.65 L821.77,206.53 L822.12,229.56 L822.46,241.27 L822.80,254.19 L823.14,240.72 L823.49,232.09 L823.83,206.36 L824.17,242.59 L824.52,202.64 L824.86,246.39 L825.20,222.09 L825.54,173.32 L825.89,267.94 L826.23,211.28 L826.57,221.91 L826.92,221.99 L827.26,235.61 L827.60,199.66 L827.94,233.37 L828.29,262.67 L828.63,210.87 L828.97,242.60 L829.32,187.12 L829.66,233.10 L830.00,216.93 L830.34,266.46 L830.69,216.56 L831.03,242.15 L831.37,212.83 L831.72,177.06 L832.06,234.37 L832.40,218.93 L832.75,231.54 L833.09,252.82 L833.43,205.74 L833.77,241.42 L834.12,264.98 L834.46,234.79 L834.80,241.97 L835.15,222.00 L835.49,244.55 L835.83,245.02 L836.17,237.17 L836.52,220.53 L836.86,278.32 L837.20,229.66 L837.55,245.84 L837.89,224.58 L838.23,246.83 L838.57,228.66 L838.92,252.85 L839.26,207.23 L839.60,255.45 L839.95,236.35 L840.29,237.76 L840.63,216.31 L840.97,247.90 L841.32,261.76 L841.66,267.17 L842.00,223.18 L842.35,214.67 L842.69,258.28 L843.03,223.52 L843.37,250.46 L843.72,229.97 L844.06,188.60 L844.40,246.91 L844.75,214.11 L845.09,236.00 L845.43,267.17 L845.77,210.52 L846.12,219.67 L846.46,205.61 L846.80,247.30 L847.15,248.22 L847.49,265.69 L847.83,188.92 L848.17,233.01 L848.52,235.92 L848.86,205.99 L849.20,240.29 L849.55,218.93 L849.89,232.38 L850.23,201.21 L850.57,226.84 L850.92,253.78 L851.26,267.17 L851.60,213.34 L851.95,247.59 L852.29,175.26 L852.63,258.96 L852.97,209.47 L853.32,249.30 L853.66,216.67 L854.00,249.99 L854.35,224.88 L854.69,244.97 L855.03,206.45 L855.37,245.01 L855.72,262.01 L856.06,209.92 L856.40,257.05 L856.75,209.88 L857.09,240.15 L857.43,226.42 L857.78,236.47 L858.12,205.29 L858.46,244.14 L858.80,253.38 L859.15,230.90 L859.49,259.58 L859.83,222.58 L860.18,267.17 L860.52,206.45 L860.86,237.50 L861.20,215.42 L861.55,241.29 L861.89,218.96 L862.23,256.00 L862.58,252.10 L862.92,234.92 L863.26,239.37 L863.60,215.72 L863.95,210.19 L864.29,238.23 L864.63,220.70 L864.98,236.37 L865.32,228.69 L865.66,241.25 L866.00,262.01 L866.35,230.45 L866.69,234.76 L867.03,206.45 L867.38,237.32 L867.72,207.06 L868.06,242.18 L868.40,204.01 L868.75,276.13 L869.09,212.73 L869.43,266.62 L869.78,192.01 L870.12,251.12 L870.46,256.39 L870.80,257.55 L871.15,225.54 L871.49,243.17 L871.83,241.80 L872.18,201.23 L872.52,233.70 L872.86,213.26 L873.20,230.76 L873.55,241.90 L873.89,210.52 L874.23,225.51 L874.58,223.69 L874.92,173.32 L875.26,225.86 L875.60,213.04 L875.95,249.57 L876.29,207.21 L876.63,252.21 L876.98,192.34 L877.32,242.63 L877.66,216.66 L878.00,266.46 L878.35,201.76 L878.69,147.09 L879.03,230.37 L879.38,228.33 L879.72,212.37 L880.06,227.97 L880.40,137.29 L880.75,231.79 L881.09,196.44 L881.43,240.71 L881.78,254.54 L882.12,210.50 L882.46,229.68 L882.81,213.25 L883.15,235.19 L883.49,214.63 L883.83,177.19 L884.18,258.02 L884.52,203.32 L884.86,231.64 L885.21,222.03 L885.55,247.26 L885.89,210.23 L886.23,250.58 L886.58,229.63 L886.92,270.91 L887.26,228.68 L887.61,253.86 L887.95,235.02 L888.29,197.56 L888.63,241.49 L888.98,208.45 L889.32,289.47 L889.66,217.76 L890.01,116.47 L890.35,249.04 L890.69,222.28 L891.03,250.03 L891.38,228.75 L891.72,239.83 L892.06,202.26 L892.41,243.27 L892.75,234.48 L893.09,262.62 L893.43,229.68 L893.78,241.22 L894.12,230.26 L894.46,240.58 L894.81,212.58 L895.15,262.72 L895.49,226.71 L895.83,255.20 L896.18,233.22 L896.52,252.54 L896.86,225.97 L897.21,264.78 L897.55,284.31 L897.89,218.47 L898.23,254.33 L898.58,209.80 L898.92,204.84 L899.26,259.64 L899.61,215.82 L899.95,259.60 L900.29,211.85 L900.63,36.10 L900.98,242.85 L901.32,208.02 L901.66,261.24 L902.01,221.58 L902.35,257.88 L902.69,213.09 L903.03,239.55 L903.38,224.73 L903.72,251.04 L904.06,224.24 L904.41,241.62 L904.75,215.32 L905.09,232.93 L905.43,246.18 L905.78,223.54 L906.12,261.72 L906.46,229.24 L906.81,240.88 L907.15,224.78 L907.49,267.17 L907.83,200.07 L908.18,239.46 L908.52,219.17 L908.86,255.54 L909.21,232.78 L909.55,273.42 L909.89,226.78 L910.24,246.84 L910.58,284.31 L910.92,213.86 L911.26,263.63 L911.61,250.87 L911.95,246.37 L912.29,226.45 L912.64,269.81 L912.98,215.49 L913.32,241.52 L913.66,208.71 L914.01,255.23 L914.35,241.55 L914.69,213.37 L915.04,230.84 L915.38,265.69 L915.72,231.67 L916.06,248.92 L916.41,240.07 L916.75,226.05 L917.09,183.89 L917.44,262.73 L917.78,227.81 L918.12,243.62 L918.46,227.89 L918.81,258.93 L919.15,206.45 L919.49,255.25 L919.84,268.65 L920.18,216.13 L920.52,233.78 L920.86,244.22 L921.21,208.00 L921.55,266.55 L921.89,186.08 L922.24,237.79 L922.58,198.91 L922.92,273.16 L923.26,200.46 L923.61,250.70 L923.95,201.99 L924.29,244.23 L924.64,199.04 L924.98,260.51 L925.32,233.40 L925.66,227.51 L926.01,259.62 L926.35,191.31 L926.69,251.76 L927.04,228.42 L927.38,235.67 L927.72,274.65 L928.06,207.35 L928.41,238.07 L928.75,263.28 L929.09,228.04 L929.44,250.91 L929.78,254.82 L930.12,233.40 L930.46,245.50 L930.81,219.86 L931.15,261.91 L931.49,243.51 L931.84,261.39 L932.18,234.20 L932.52,252.57 L932.86,239.67 L933.21,267.17 L933.55,235.28 L933.89,248.41 L934.24,229.08 L934.58,245.77 L934.92,220.57 L935.27,249.50 L935.61,226.59 L935.95,251.04 L936.29,244.51 L936.64,221.90 L936.98,252.38 L937.32,215.65 L937.67,241.05 L938.01,223.25 L938.35,230.68 L938.69,207.68 L939.04,240.68 L939.38,267.17 L939.72,231.39 L940.07,257.33 L940.41,225.53 L940.75,233.54 L941.09,263.28 L941.44,213.22 L941.78,246.68 L942.12,228.78 L942.47,238.14 L942.81,221.18 L943.15,234.26 L943.49,201.82 L943.84,232.42 L944.18,188.34 L944.52,236.07 L944.87,221.86 L945.21,264.98 L945.55,227.35 L945.89,261.32 L946.24,209.86 L946.58,237.57 L946.92,221.41 L947.27,213.22 L947.61,261.75 L947.95,225.39 L948.29,246.50 L948.64,208.57 L948.98,254.24 L949.32,210.91 L949.67,264.98 L950.01,213.84 L950.35,250.91 L950.69,190.40 L951.04,258.88 L951.38,241.14 L951.72,217.23 L952.07,246.83 L952.41,209.35 L952.75,261.35 L953.09,238.93 L953.44,239.23 L953.78,228.57 L954.12,202.26 L954.47,242.58 L954.81,275.35 L955.15,232.26 L955.49,269.19 L955.84,234.13 L956.18,235.57 L956.52,241.17 L956.87,230.79 L957.21,264.60 L957.55,232.08 L957.89,207.23 L958.24,241.09 L958.58,223.64 L958.92,237.77 L959.27,217.92 L959.61,236.54 L959.95,226.14 L960.30,218.93 L960.64,258.27 L960.98,196.78 L961.32,241.39 L961.67,200.13 L962.01,227.81 L962.35,236.73 L962.70,208.19 L963.04,238.28 L963.38,244.55 L963.72,222.38 L964.07,287.28 L964.41,175.26 L964.75,250.87 L965.10,231.59 L965.44,245.19 L965.78,216.89 L966.12,259.02 L966.47,223.47 L966.81,262.99 L967.15,184.47 L967.50,253.47 L967.84,258.78 L968.18,238.63 L968.52,225.96 L968.87,268.33 L969.21,287.28 L969.55,240.15 L969.90,241.12 L970.24,252.46 L970.58,231.87 L970.92,217.60 L971.27,276.13 L971.61,241.69 L971.95,257.42 L972.30,268.01 L972.64,259.61 L972.98,229.57 L973.32,251.24 L973.67,248.61 L974.01,276.13 L974.35,236.89 L974.70,241.17 L975.04,226.58 L975.38,238.61 L975.72,198.27 L976.07,239.90 L976.41,222.39 L976.75,233.26 L977.10,207.93 L977.44,233.29 L977.78,254.54 L978.12,220.63 L978.47,251.88 L978.81,233.67 L979.15,239.42 L979.50,223.12 L979.84,234.57 L980.18,243.21 L980.52,213.61 L980.87,261.62 L981.21,268.49 L981.55,232.81 L981.90,278.32 L982.24,210.65 L982.58,233.93 L982.92,258.05 L983.27,208.50 L983.61,264.55 L983.95,232.39 L984.30,247.13 L984.64,196.08 L984.98,246.48 L985.33,293.79" fill="none" stroke="#b13c6c" stroke-width="1.542" stroke-linejoin="round" stroke-linecap="butt"/>
<path d="M714.95,23.11 V308.91 H998.20" fill="none" stroke="#000" stroke-width="0.934" stroke-linecap="square"/>
<path d="M727.48,308.91v3.52M761.77,308.91v3.52M796.06,308.91v3.52M830.34,308.91v3.52M864.63,308.91v3.52M898.92,308.91v3.52M933.21,308.91v3.52M967.50,308.91v3.52M714.95,305.39h-3.52M714.95,273.16h-3.52M714.95,240.94h-3.52M714.95,208.71h-3.52M714.95,176.48h-3.52M714.95,144.25h-3.52M714.95,112.03h-3.52M714.95,79.80h-3.52M714.95,47.57h-3.52" fill="none" stroke="#000" stroke-width="0.934"/>
<text x="727.48" y="322.85" transform="rotate(0.05 727.48 322.85)" text-anchor="middle" font-size="9.34">0</text>
<text x="761.77" y="322.85" transform="rotate(0.05 761.77 322.85)" text-anchor="middle" font-size="9.34">100</text>
<text x="796.06" y="322.85" transform="rotate(0.05 796.06 322.85)" text-anchor="middle" font-size="9.34">200</text>
<text x="830.34" y="322.85" transform="rotate(0.05 830.34 322.85)" text-anchor="middle" font-size="9.34">300</text>
<text x="864.63" y="322.85" transform="rotate(0.05 864.63 322.85)" text-anchor="middle" font-size="9.34">400</text>
<text x="898.92" y="322.85" transform="rotate(0.05 898.92 322.85)" text-anchor="middle" font-size="9.34">500</text>
<text x="933.21" y="322.85" transform="rotate(0.05 933.21 322.85)" text-anchor="middle" font-size="9.34">600</text>
<text x="967.50" y="322.85" transform="rotate(0.05 967.50 322.85)" text-anchor="middle" font-size="9.34">700</text>
<text x="708.43" y="309.09" transform="rotate(0.05 708.43 309.09)" text-anchor="end" font-size="9.34">0.025</text>
<text x="708.43" y="276.86" transform="rotate(0.05 708.43 276.86)" text-anchor="end" font-size="9.34">0.030</text>
<text x="708.43" y="244.64" transform="rotate(0.05 708.43 244.64)" text-anchor="end" font-size="9.34">0.035</text>
<text x="708.43" y="212.41" transform="rotate(0.05 708.43 212.41)" text-anchor="end" font-size="9.34">0.040</text>
<text x="708.43" y="180.18" transform="rotate(0.05 708.43 180.18)" text-anchor="end" font-size="9.34">0.045</text>
<text x="708.43" y="147.95" transform="rotate(0.05 708.43 147.95)" text-anchor="end" font-size="9.34">0.050</text>
<text x="708.43" y="115.73" transform="rotate(0.05 708.43 115.73)" text-anchor="end" font-size="9.34">0.055</text>
<text x="708.43" y="83.50" transform="rotate(0.05 708.43 83.50)" text-anchor="end" font-size="9.34">0.060</text>
<text x="708.43" y="51.27" transform="rotate(0.05 708.43 51.27)" text-anchor="end" font-size="9.34">0.065</text>
<text x="856.57" y="17.30" transform="rotate(0.05 856.57 17.30)" text-anchor="middle" font-size="9.34">Batch_size = 4</text>
<path d="M72.70,530.17 L73.38,557.62 L74.07,499.28 L74.76,495.70 L75.45,528.55 L76.13,515.91 L76.82,545.94 L77.51,498.03 L78.20,494.21 L78.89,572.30 L79.57,515.65 L80.26,533.68 L80.95,495.21 L81.64,534.32 L82.32,560.36 L83.01,504.16 L83.70,541.79 L84.39,532.38 L85.08,500.18 L85.76,531.99 L86.45,542.95 L87.14,360.97 L87.83,509.52 L88.51,513.55 L89.20,478.79 L89.89,505.13 L90.58,519.58 L91.26,467.85 L91.95,540.27 L92.64,489.73 L93.33,570.80 L94.02,521.27 L94.70,466.86 L95.39,541.02 L96.08,483.77 L96.77,540.37 L97.45,524.38 L98.14,559.36 L98.83,498.69 L99.52,554.92 L100.21,557.87 L100.89,519.21 L101.58,507.14 L102.27,534.66 L102.96,524.49 L103.64,501.67 L104.33,556.38 L105.02,526.61 L105.71,496.70 L106.40,543.78 L107.08,485.76 L107.77,552.40 L108.46,522.10 L109.15,503.16 L109.83,528.55 L110.52,517.78 L111.21,521.04 L111.90,495.70 L112.59,548.92 L113.27,521.86 L113.96,563.59 L114.65,515.23 L115.34,549.13 L116.02,507.74 L116.71,490.73 L117.40,544.44 L118.09,493.13 L118.78,489.24 L119.46,531.50 L120.15,551.90 L120.84,505.97 L121.53,534.56 L122.21,512.12 L122.90,550.96 L123.59,527.77 L124.28,558.87 L124.97,509.21 L125.65,498.19 L126.34,522.49 L127.03,530.02 L127.72,507.64 L128.40,530.18 L129.09,499.68 L129.78,522.66 L130.47,509.03 L131.15,481.78 L131.84,540.47 L132.53,500.18 L133.22,528.36 L133.91,501.82 L134.59,489.73 L135.28,525.65 L135.97,546.43 L136.66,514.33 L137.34,541.46 L138.03,501.10 L138.72,491.23 L139.41,517.32 L140.10,509.59 L140.78,522.48 L141.47,517.33 L142.16,499.68 L142.85,527.15 L143.53,541.96 L144.22,456.11 L144.91,520.34 L145.60,492.72 L146.29,556.88 L146.97,518.32 L147.66,545.34 L148.35,475.81 L149.04,549.41 L149.72,552.40 L150.41,517.83 L151.10,504.16 L151.79,549.56 L152.48,513.61 L153.16,541.90 L153.85,551.90 L154.54,517.57 L155.23,501.67 L155.91,526.55 L156.60,493.50 L157.29,472.33 L157.98,539.15 L158.67,501.67 L159.35,558.63 L160.04,565.08 L160.73,506.79 L161.42,531.86 L162.10,564.34 L162.79,497.66 L163.48,523.88 L164.17,470.84 L164.85,522.00 L165.54,510.57 L166.23,528.53 L166.92,519.58 L167.61,539.90 L168.29,524.77 L168.98,545.93 L169.67,503.16 L170.36,567.32 L171.04,515.10 L171.73,533.95 L172.42,472.58 L173.11,529.22 L173.80,489.24 L174.48,566.58 L175.17,525.84 L175.86,533.66 L176.55,525.35 L177.23,501.67 L177.92,567.32 L178.61,528.57 L179.30,526.51 L179.99,540.89 L180.67,509.59 L181.36,536.92 L182.05,546.43 L182.74,507.14 L183.42,542.95 L184.11,517.02 L184.80,488.24 L185.49,528.59 L186.18,484.76 L186.86,514.72 L187.55,452.93 L188.24,540.47 L188.93,509.67 L189.61,478.79 L190.30,531.10 L190.99,484.26 L191.68,555.53 L192.37,491.10 L193.05,575.43 L193.74,518.62 L194.43,489.73 L195.12,532.01 L195.80,544.94 L196.49,499.68 L197.18,527.53 L197.87,541.47 L198.56,514.24 L199.24,504.66 L199.93,535.52 L200.62,509.68 L201.31,548.92 L201.99,506.86 L202.68,543.45 L203.37,507.81 L204.06,485.26 L204.74,522.39 L205.43,518.72 L206.12,533.97 L206.81,507.64 L207.50,535.66 L208.18,541.28 L208.87,518.70 L209.56,521.39 L210.25,501.17 L210.93,556.38 L211.62,527.92 L212.31,503.16 L213.00,550.41 L213.69,504.66 L214.37,531.98 L215.06,528.42 L215.75,504.66 L216.44,536.64 L217.12,551.41 L217.81,514.60 L218.50,593.68 L219.19,515.05 L219.88,510.62 L220.56,530.86 L221.25,516.52 L221.94,488.74 L222.63,538.63 L223.31,538.48 L224.00,512.65 L224.69,491.23 L225.38,528.47 L226.07,510.03 L226.75,524.07 L227.44,503.16 L228.13,521.43 L228.82,510.33 L229.50,456.41 L230.19,534.50 L230.88,505.33 L231.57,490.73 L232.26,560.61 L232.94,490.15 L233.63,469.84 L234.32,524.43 L235.01,523.83 L235.69,500.18 L236.38,531.67 L237.07,521.61 L237.76,547.93 L238.45,495.21 L239.13,531.26 L239.82,513.77 L240.51,489.73 L241.20,520.42 L241.88,529.52 L242.57,502.88 L243.26,500.84 L243.95,443.23 L244.63,524.07 L245.32,508.60 L246.01,498.19 L246.70,550.66 L247.39,520.66 L248.07,496.70 L248.76,530.07 L249.45,534.00 L250.14,494.21 L250.82,521.45 L251.51,503.30 L252.20,524.36 L252.89,507.64 L253.58,538.74 L254.26,505.65 L254.95,531.09 L255.64,553.65 L256.33,512.54 L257.01,491.23 L257.70,530.51 L258.39,498.69 L259.08,528.20 L259.77,549.42 L260.45,507.14 L261.14,536.76 L261.83,517.64 L262.52,528.69 L263.20,564.34 L263.89,492.72 L264.58,529.48 L265.27,520.77 L265.96,546.89 L266.64,502.67 L267.33,532.44 L268.02,488.24 L268.71,556.38 L269.39,501.15 L270.08,516.07 L270.77,502.67 L271.46,542.15 L272.15,528.49 L272.83,558.37 L273.52,508.80 L274.21,542.25 L274.90,494.21 L275.58,538.46 L276.27,565.33 L276.96,524.63 L277.65,496.70 L278.33,532.45 L279.02,505.84 L279.71,540.33 L280.40,501.17 L281.09,534.46 L281.77,516.59 L282.46,540.28 L283.15,539.97 L283.84,447.66 L284.52,522.18 L285.21,508.62 L285.90,531.19 L286.59,476.80 L287.28,545.23 L287.96,550.41 L288.65,515.35 L289.34,500.18 L290.03,552.40 L290.71,514.45 L291.40,499.73 L292.09,523.17 L292.78,486.75 L293.47,522.42 L294.15,496.70 L294.84,522.82 L295.53,508.82 L296.22,510.07 L296.90,521.66 L297.59,470.84 L298.28,546.43 L298.97,509.90 L299.66,525.11 L300.34,501.67 L301.03,536.16 L301.72,521.74 L302.41,532.39 L303.09,497.20 L303.78,545.94 L304.47,515.31 L305.16,538.31 L305.85,523.27 L306.53,534.20 L307.22,503.16 L307.91,536.77 L308.60,505.27 L309.28,499.68 L309.97,530.76 L310.66,527.73 L311.35,506.15 L312.04,536.48 L312.72,561.35 L313.41,525.45 L314.10,504.66 L314.79,544.94 L315.47,509.60 L316.16,562.85 L316.85,524.29 L317.54,540.50 L318.22,537.55 L318.91,510.13 L319.60,544.86 L320.29,519.67 L320.98,495.21 L321.66,525.34 L322.35,545.44 L323.04,524.11 L323.73,513.61 L324.41,546.23 L325.10,522.22 L325.79,557.38 L326.48,517.52 L327.17,505.65 L327.85,545.44 L328.54,534.53 L329.23,531.51 L329.92,552.90 L330.60,620.79" fill="none" stroke="#d14a61" stroke-width="1.542" stroke-linejoin="round" stroke-linecap="butt"/>
<path d="M59.80,347.98 V633.78 H343.50" fill="none" stroke="#000" stroke-width="0.934" stroke-linecap="square"/>
<path d="M72.01,633.78v3.52M106.40,633.78v3.52M140.78,633.78v3.52M175.17,633.78v3.52M209.56,633.78v3.52M243.95,633.78v3.52M278.33,633.78v3.52M312.72,633.78v3.52M59.80,590.20h-3.52M59.80,540.47h-3.52M59.80,490.73h-3.52M59.80,440.99h-3.52M59.80,391.26h-3.52" fill="none" stroke="#000" stroke-width="0.934"/>
<text x="72.01" y="647.33" transform="rotate(0.05 72.01 647.33)" text-anchor="middle" font-size="9.34">0</text>
<text x="106.40" y="647.33" transform="rotate(0.05 106.40 647.33)" text-anchor="middle" font-size="9.34">50</text>
<text x="140.78" y="647.33" transform="rotate(0.05 140.78 647.33)" text-anchor="middle" font-size="9.34">100</text>
<text x="175.17" y="647.33" transform="rotate(0.05 175.17 647.33)" text-anchor="middle" font-size="9.34">150</text>
<text x="209.56" y="647.33" transform="rotate(0.05 209.56 647.33)" text-anchor="middle" font-size="9.34">200</text>
<text x="243.95" y="647.33" transform="rotate(0.05 243.95 647.33)" text-anchor="middle" font-size="9.34">250</text>
<text x="278.33" y="647.33" transform="rotate(0.05 278.33 647.33)" text-anchor="middle" font-size="9.34">300</text>
<text x="312.72" y="647.33" transform="rotate(0.05 312.72 647.33)" text-anchor="middle" font-size="9.34">350</text>
<text x="53.27" y="593.90" transform="rotate(0.05 53.27 593.90)" text-anchor="end" font-size="9.34">0.04</text>
<text x="53.27" y="544.17" transform="rotate(0.05 53.27 544.17)" text-anchor="end" font-size="9.34">0.05</text>
<text x="53.27" y="494.43" transform="rotate(0.05 53.27 494.43)" text-anchor="end" font-size="9.34">0.06</text>
<text x="53.27" y="444.70" transform="rotate(0.05 53.27 444.70)" text-anchor="end" font-size="9.34">0.07</text>
<text x="53.27" y="394.96" transform="rotate(0.05 53.27 394.96)" text-anchor="end" font-size="9.34">0.08</text>
<text x="201.65" y="342.17" transform="rotate(0.05 201.65 342.17)" text-anchor="middle" font-size="9.34">Batch_size = 8</text>
<text x="201.65" y="659.89" transform="rotate(0.05 201.65 659.89)" text-anchor="middle" font-size="9.34">Step</text>
<text transform="translate(26.87,490.88) rotate(-89.95)" text-anchor="middle" font-size="9.34">Memory</text>
<path d="M400.57,455.99 L401.94,523.47 L403.32,501.20 L404.70,515.68 L406.07,519.02 L407.45,574.69 L408.83,569.12 L410.20,527.92 L411.58,564.67 L412.95,495.63 L414.33,513.45 L415.71,455.55 L417.08,514.56 L418.46,462.23 L419.84,463.34 L421.21,519.02 L422.59,575.80 L423.96,487.84 L425.34,511.22 L426.72,533.49 L428.09,464.90 L429.47,504.54 L430.85,539.06 L432.22,543.51 L433.60,500.09 L434.98,574.69 L436.35,474.48 L437.73,481.16 L439.10,551.31 L440.48,554.65 L441.86,513.45 L443.23,360.97 L444.61,532.38 L445.99,523.47 L447.36,550.19 L448.74,464.46 L450.11,473.36 L451.49,525.70 L452.87,499.64 L454.24,573.58 L455.62,571.35 L457.00,521.24 L458.37,606.94 L459.75,459.56 L461.12,550.19 L462.50,486.73 L463.88,530.15 L465.25,531.26 L466.63,553.53 L468.01,540.17 L469.38,527.92 L470.76,568.01 L472.13,551.31 L473.51,533.49 L474.89,532.38 L476.26,541.29 L477.64,493.41 L479.02,553.53 L480.39,529.04 L481.77,508.99 L483.14,542.40 L484.52,525.70 L485.90,527.92 L487.27,569.12 L488.65,467.80 L490.03,555.76 L491.40,450.65 L492.78,539.06 L494.15,486.73 L495.53,607.65 L496.91,505.65 L498.28,573.58 L499.66,492.96 L501.04,540.17 L502.41,588.94 L503.79,546.85 L505.17,544.63 L506.54,488.51 L507.92,535.72 L509.29,583.60 L510.67,553.53 L512.05,523.47 L513.42,517.90 L514.80,521.24 L516.18,490.07 L517.55,524.58 L518.93,603.48 L520.30,470.47 L521.68,534.60 L523.06,503.43 L524.43,562.44 L525.81,546.85 L527.19,494.52 L528.56,557.54 L529.94,620.79 L531.31,564.67 L532.69,517.90 L534.07,522.36 L535.44,599.85 L536.82,513.45 L538.20,497.86 L539.57,484.50 L540.95,470.02 L542.32,500.09 L543.70,461.12 L545.08,546.85 L546.45,555.76 L547.83,576.92 L549.21,540.17 L550.58,505.65 L551.96,583.60 L553.33,540.17 L554.71,526.81 L556.09,468.91 L557.46,458.22 L558.84,557.99 L560.22,500.09 L561.59,497.86 L562.97,489.40 L564.35,529.04 L565.72,554.65 L567.10,494.52 L568.47,551.31 L569.85,592.28 L571.23,523.47 L572.60,529.04 L573.98,499.64 L575.36,562.00 L576.73,540.17 L578.11,582.48 L579.48,546.85 L580.86,515.68 L582.24,500.09 L583.61,493.41 L584.99,561.33 L586.37,481.16 L587.74,535.72 L589.12,584.71 L590.49,555.76 L591.87,544.63 L593.25,449.98 L594.62,513.45 L596.00,575.80 L597.38,578.48 L598.75,502.76 L600.13,566.90 L601.50,576.25 L602.88,535.72 L604.26,529.04 L605.63,521.24 L607.01,489.40 L608.39,523.47 L609.76,522.80 L611.14,573.58 L612.51,530.15 L613.89,566.90 L615.27,517.90 L616.64,469.36 L618.02,522.36 L619.40,512.34 L620.77,520.13 L622.15,497.19 L623.52,601.32 L624.90,573.58 L626.28,543.51 L627.65,546.85 L629.03,493.41 L630.41,535.72 L631.78,496.75 L633.16,498.31 L634.54,506.77 L635.91,542.40 L637.29,553.53 L638.66,579.14 L640.04,533.49 L641.42,486.28 L642.79,529.04 L644.17,565.11 L645.55,525.03 L646.92,566.90 L648.30,541.95 L649.67,551.31 L651.05,579.81 L652.43,530.82 L653.80,590.19 L655.18,549.08 L656.56,520.58 L657.93,591.57" fill="none" stroke="#e3685c" stroke-width="1.542" stroke-linejoin="round" stroke-linecap="butt"/>
<path d="M387.70,347.98 V633.78 H670.80" fill="none" stroke="#000" stroke-width="0.934" stroke-linecap="square"/>
<path d="M399.19,633.78v3.52M433.60,633.78v3.52M468.01,633.78v3.52M502.41,633.78v3.52M536.82,633.78v3.52M571.23,633.78v3.52M605.63,633.78v3.52M640.04,633.78v3.52M387.70,626.80h-3.52M387.70,575.40h-3.52M387.70,524.00h-3.52M387.70,472.61h-3.52M387.70,421.21h-3.52M387.70,369.81h-3.52" fill="none" stroke="#000" stroke-width="0.934"/>
<text x="399.19" y="647.33" transform="rotate(0.05 399.19 647.33)" text-anchor="middle" font-size="9.34">0</text>
<text x="433.60" y="647.33" transform="rotate(0.05 433.60 647.33)" text-anchor="middle" font-size="9.34">25</text>
<text x="468.01" y="647.33" transform="rotate(0.05 468.01 647.33)" text-anchor="middle" font-size="9.34">50</text>
<text x="502.41" y="647.33" transform="rotate(0.05 502.41 647.33)" text-anchor="middle" font-size="9.34">75</text>
<text x="536.82" y="647.33" transform="rotate(0.05 536.82 647.33)" text-anchor="middle" font-size="9.34">100</text>
<text x="571.23" y="647.33" transform="rotate(0.05 571.23 647.33)" text-anchor="middle" font-size="9.34">125</text>
<text x="605.63" y="647.33" transform="rotate(0.05 605.63 647.33)" text-anchor="middle" font-size="9.34">150</text>
<text x="640.04" y="647.33" transform="rotate(0.05 640.04 647.33)" text-anchor="middle" font-size="9.34">175</text>
<text x="381.18" y="630.50" transform="rotate(0.05 381.18 630.50)" text-anchor="end" font-size="9.34">0.07</text>
<text x="381.18" y="579.10" transform="rotate(0.05 381.18 579.10)" text-anchor="end" font-size="9.34">0.08</text>
<text x="381.18" y="527.71" transform="rotate(0.05 381.18 527.71)" text-anchor="end" font-size="9.34">0.09</text>
<text x="381.18" y="476.31" transform="rotate(0.05 381.18 476.31)" text-anchor="end" font-size="9.34">0.10</text>
<text x="381.18" y="424.91" transform="rotate(0.05 381.18 424.91)" text-anchor="end" font-size="9.34">0.11</text>
<text x="381.18" y="373.51" transform="rotate(0.05 381.18 373.51)" text-anchor="end" font-size="9.34">0.12</text>
<text x="529.25" y="342.17" transform="rotate(0.05 529.25 342.17)" text-anchor="middle" font-size="9.34">Batch_size = 16</text>
<text x="529.25" y="659.89" transform="rotate(0.05 529.25 659.89)" text-anchor="middle" font-size="9.34">Step</text>
<path d="M727.83,441.80 L730.59,429.59 L733.36,427.15 L736.13,487.99 L738.90,450.24 L741.67,438.03 L744.44,415.82 L747.21,454.68 L749.98,496.87 L752.74,529.07 L755.51,456.90 L758.28,392.95 L761.05,449.35 L763.82,505.76 L766.59,562.16 L769.36,483.55 L772.13,399.83 L774.89,487.99 L777.66,521.30 L780.43,548.39 L783.20,508.20 L785.97,436.92 L788.74,474.67 L791.51,455.13 L794.28,617.90 L797.05,489.55 L799.81,360.97 L802.58,568.38 L805.35,572.38 L808.12,518.64 L810.89,506.87 L813.66,494.65 L816.43,480.66 L819.20,525.08 L821.96,479.11 L824.73,514.20 L827.50,487.99 L830.27,512.42 L833.04,461.79 L835.81,476.89 L838.58,494.21 L841.35,449.57 L844.12,481.33 L846.88,529.07 L849.65,444.69 L852.42,440.91 L855.19,414.04 L857.96,459.12 L860.73,465.34 L863.50,445.80 L866.27,545.29 L869.03,462.45 L871.80,501.32 L874.57,459.57 L877.34,467.56 L880.11,497.54 L882.88,373.63 L885.65,419.15 L888.42,487.55 L891.19,466.45 L893.95,500.21 L896.72,411.82 L899.49,504.20 L902.26,448.02 L905.03,479.11 L907.80,527.52 L910.57,456.90 L913.34,411.38 L916.10,530.63 L918.87,404.72 L921.64,513.53 L924.41,509.75 L927.18,421.37 L929.95,396.50 L932.72,511.31 L935.49,490.21 L938.26,479.11 L941.02,364.74 L943.79,428.03 L946.56,486.22 L949.33,430.25 L952.10,367.41 L954.87,530.63 L957.64,479.11 L960.41,463.56 L963.17,406.94 L965.94,472.45 L968.71,387.40 L971.48,475.78 L974.25,474.22 L977.02,485.77 L979.79,400.28 L982.56,425.81 L985.32,620.79" fill="none" stroke="#e98d6b" stroke-width="1.542" stroke-linejoin="round" stroke-linecap="butt"/>
<path d="M714.95,347.98 V633.78 H998.20" fill="none" stroke="#000" stroke-width="0.934" stroke-linecap="square"/>
<path d="M725.06,633.78v3.52M780.43,633.78v3.52M835.81,633.78v3.52M891.19,633.78v3.52M946.56,633.78v3.52M714.95,631.19h-3.52M714.95,588.38h-3.52M714.95,545.57h-3.52M714.95,502.76h-3.52M714.95,459.95h-3.52M714.95,417.14h-3.52M714.95,374.33h-3.52" fill="none" stroke="#000" stroke-width="0.934"/>
<text x="725.06" y="647.33" transform="rotate(0.05 725.06 647.33)" text-anchor="middle" font-size="9.34">0</text>
<text x="780.43" y="647.33" transform="rotate(0.05 780.43 647.33)" text-anchor="middle" font-size="9.34">20</text>
<text x="835.81" y="647.33" transform="rotate(0.05 835.81 647.33)" text-anchor="middle" font-size="9.34">40</text>
<text x="891.19" y="647.33" transform="rotate(0.05 891.19 647.33)" text-anchor="middle" font-size="9.34">60</text>
<text x="946.56" y="647.33" transform="rotate(0.05 946.56 647.33)" text-anchor="middle" font-size="9.34">80</text>
<text x="708.43" y="634.89" transform="rotate(0.05 708.43 634.89)" text-anchor="end" font-size="9.34">0.12</text>
<text x="708.43" y="592.08" transform="rotate(0.05 708.43 592.08)" text-anchor="end" font-size="9.34">0.13</text>
<text x="708.43" y="549.27" transform="rotate(0.05 708.43 549.27)" text-anchor="end" font-size="9.34">0.14</text>
<text x="708.43" y="506.46" transform="rotate(0.05 708.43 506.46)" text-anchor="end" font-size="9.34">0.15</text>
<text x="708.43" y="463.65" transform="rotate(0.05 708.43 463.65)" text-anchor="end" font-size="9.34">0.16</text>
<text x="708.43" y="420.84" transform="rotate(0.05 708.43 420.84)" text-anchor="end" font-size="9.34">0.17</text>
<text x="708.43" y="378.03" transform="rotate(0.05 708.43 378.03)" text-anchor="end" font-size="9.34">0.18</text>
<text x="856.57" y="342.17" transform="rotate(0.05 856.57 342.17)" text-anchor="middle" font-size="9.34">Batch_size = 32</text>
<text x="856.57" y="659.89" transform="rotate(0.05 856.57 659.89)" text-anchor="middle" font-size="9.34">Step</text>
<text x="1007.83" y="297.66" transform="rotate(0.05 1007.83 297.66)" text-anchor="start" font-size="9.34">Batch_size</text>
<text x="1039.82" y="311.76" transform="rotate(0.05 1039.82 311.76)" text-anchor="start" font-size="9.34">1</text>
<text x="1039.82" y="325.39" transform="rotate(0.05 1039.82 325.39)" text-anchor="start" font-size="9.34">2</text>
<text x="1039.82" y="339.02" transform="rotate(0.05 1039.82 339.02)" text-anchor="start" font-size="9.34">4</text>
<text x="1039.82" y="352.65" transform="rotate(0.05 1039.82 352.65)" text-anchor="start" font-size="9.34">8</text>
<text x="1039.82" y="366.28" transform="rotate(0.05 1039.82 366.28)" text-anchor="start" font-size="9.34">16</text>
<text x="1039.82" y="379.91" transform="rotate(0.05 1039.82 379.91)" text-anchor="start" font-size="9.34">32</text>
<path d="M1013.67,308.60 L1032.35,308.60" stroke="#6c2b6d" stroke-width="1.542" stroke-linecap="square" fill="none"/>
<path d="M1013.67,322.23 L1032.35,322.23" stroke="#8f3371" stroke-width="1.542" stroke-linecap="square" fill="none"/>
<path d="M1013.67,335.86 L1032.35,335.86" stroke="#b13c6c" stroke-width="1.542" stroke-linecap="square" fill="none"/>
<path d="M1013.67,349.49 L1032.35,349.49" stroke="#d14a61" stroke-width="1.542" stroke-linecap="square" fill="none"/>
<path d="M1013.67,363.12 L1032.35,363.12" stroke="#e3685c" stroke-width="1.542" stroke-linecap="square" fill="none"/>
<path d="M1013.67,376.75 L1032.35,376.75" stroke="#e98d6b" stroke-width="1.542" stroke-linecap="square" fill="none"/>
</svg>
</body></html>
